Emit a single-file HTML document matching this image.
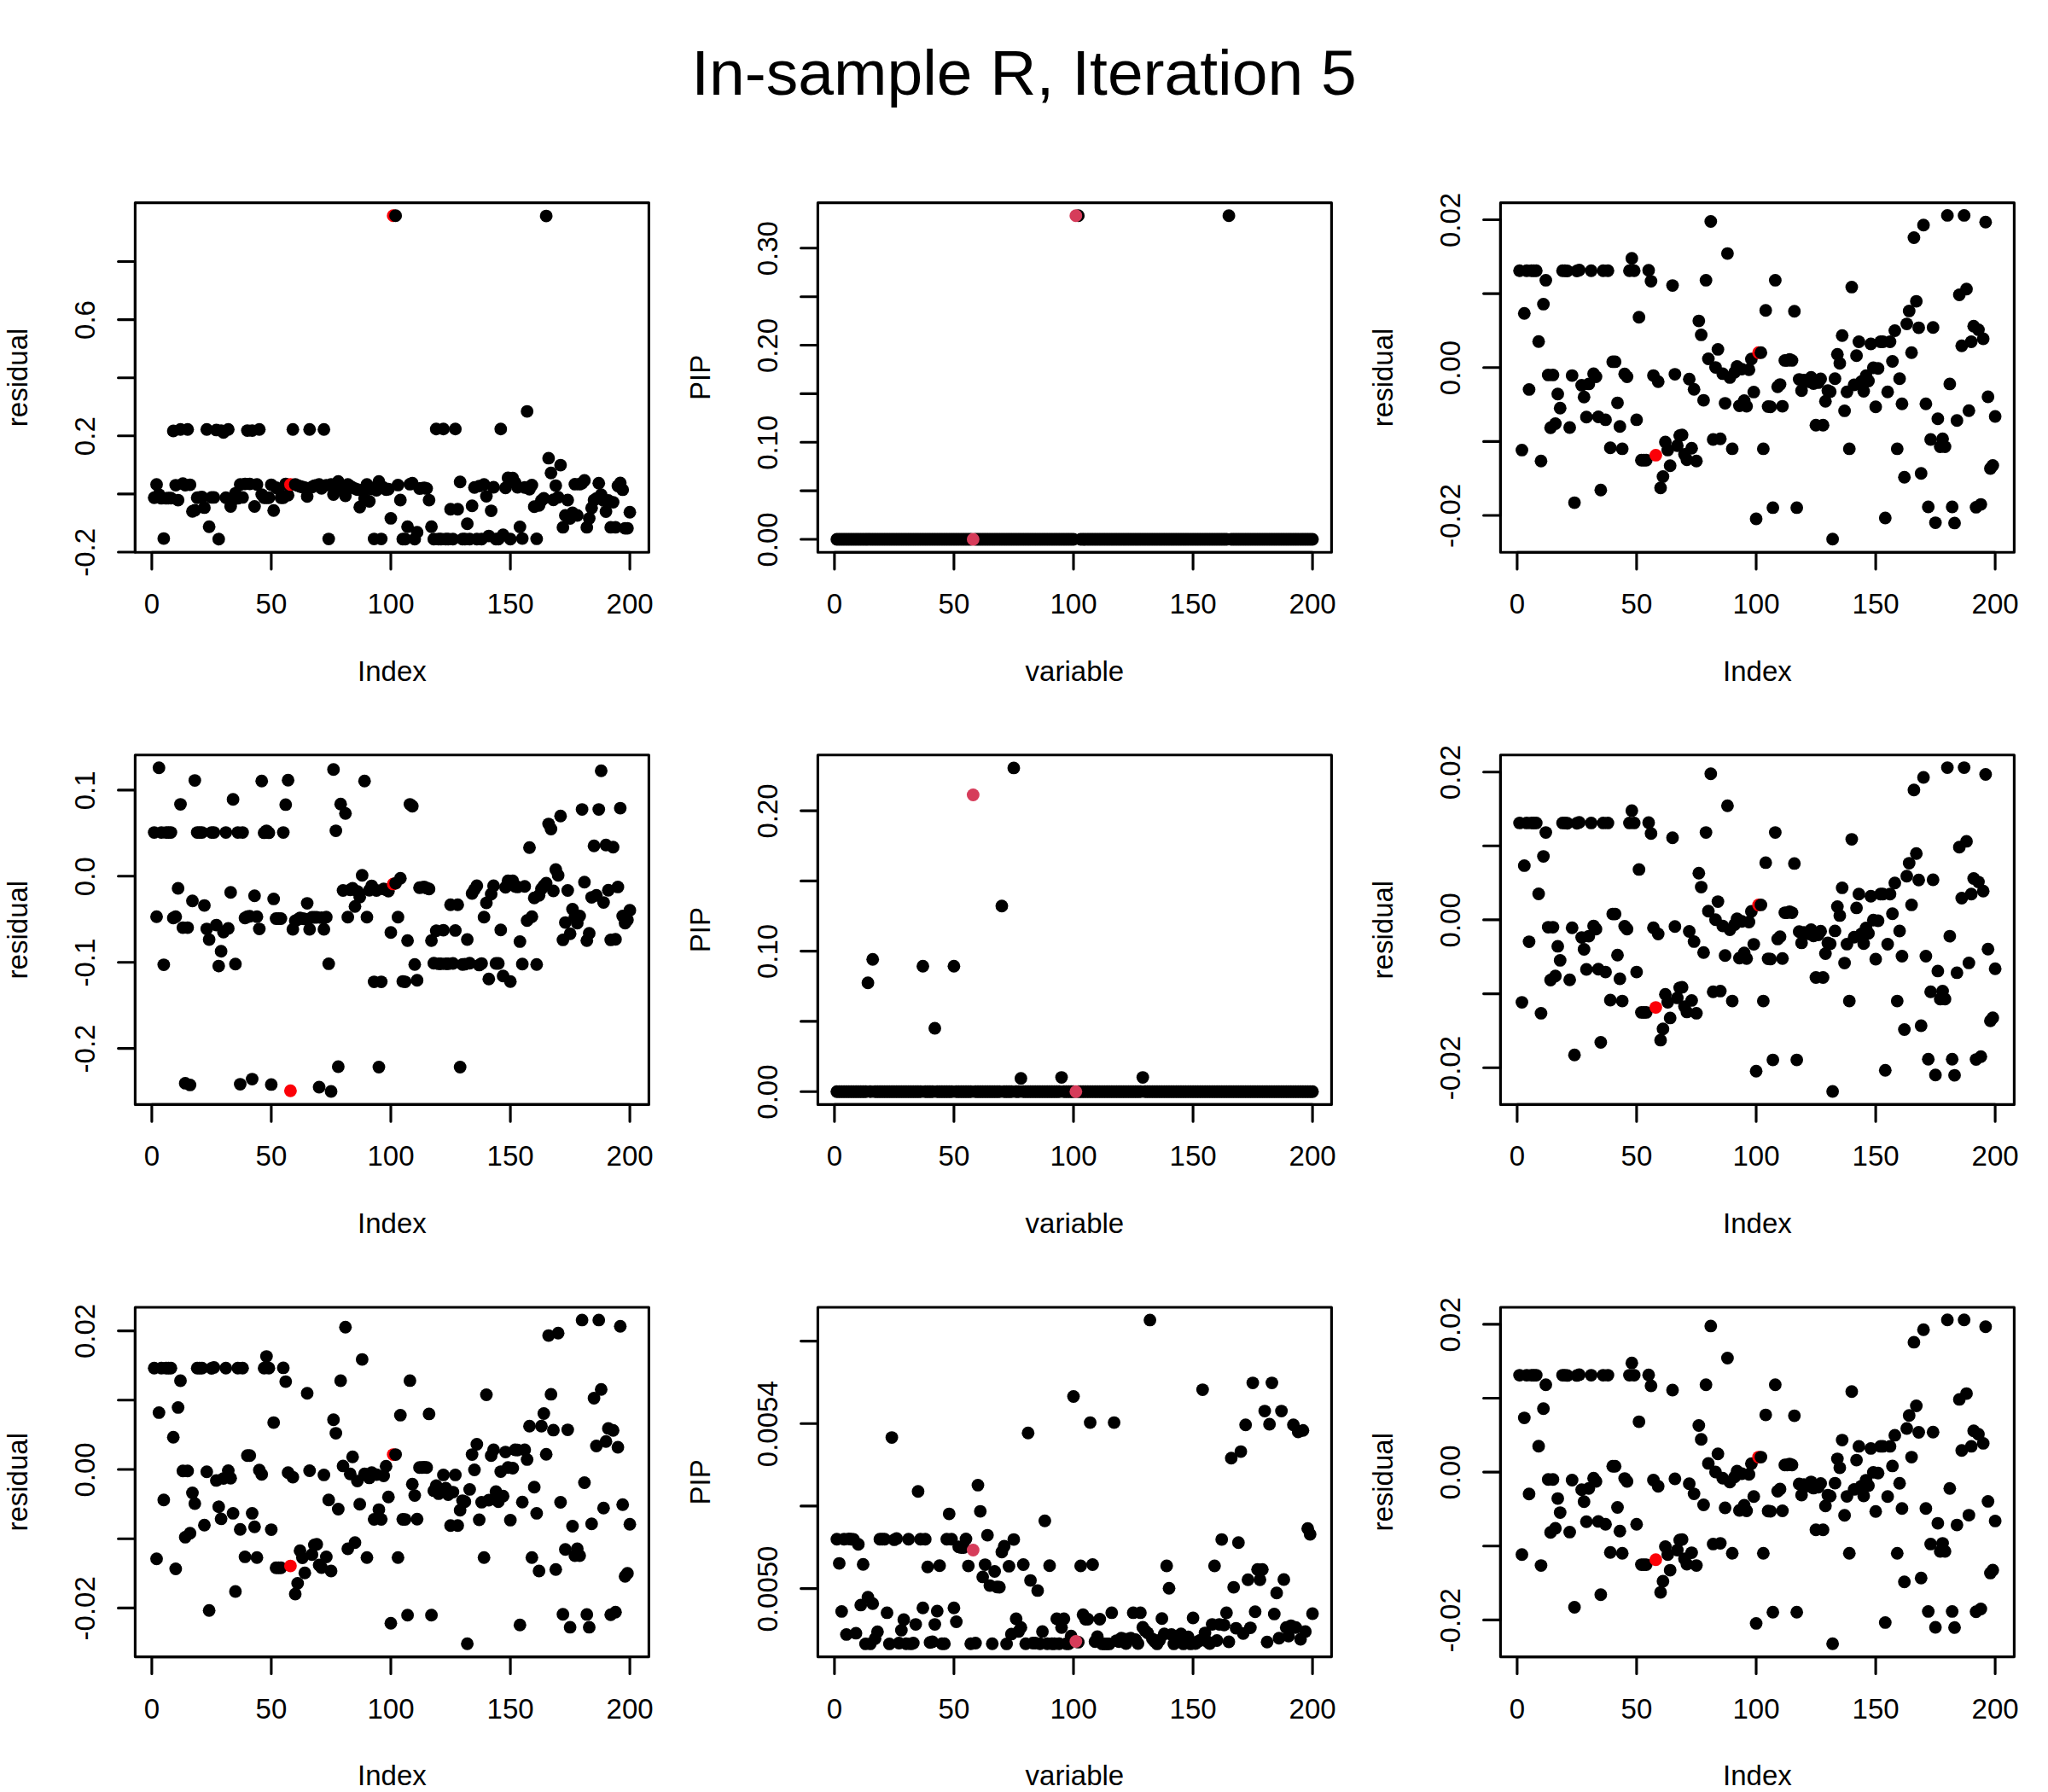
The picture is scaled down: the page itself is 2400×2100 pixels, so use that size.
<!DOCTYPE html>
<html><head><meta charset="utf-8"><title>In-sample R, Iteration 5</title>
<style>html,body{margin:0;padding:0;background:#fff}svg{display:block}text{font-family:"Liberation Sans",Arial,Helvetica,sans-serif;fill:#000}.a{font-size:33px}.t{font-size:75px}.l{stroke:#000;stroke-width:3.125;stroke-linecap:round;stroke-linejoin:round;fill:none}</style></head><body>
<svg width="2400" height="2100" viewBox="0 0 2400 2100">
<rect width="2400" height="2100" fill="#fff"/>
<text class="t" x="1200" y="110.5" text-anchor="middle">In-sample R, Iteration 5</text>
<g>
<g fill="#000"><circle cx="180.7" cy="583.2" r="7.43"/><circle cx="183.5" cy="567.8" r="7.43"/><circle cx="186.3" cy="579.6" r="7.43"/><circle cx="189.1" cy="583.9" r="7.43"/><circle cx="191.9" cy="631.1" r="7.43"/><circle cx="194.7" cy="583.9" r="7.43"/><circle cx="197.5" cy="583.8" r="7.43"/><circle cx="200.3" cy="583.7" r="7.43"/><circle cx="203.1" cy="505" r="7.43"/><circle cx="205.9" cy="568.6" r="7.43"/><circle cx="208.7" cy="586.1" r="7.43"/><circle cx="211.5" cy="503.2" r="7.43"/><circle cx="214.3" cy="566.7" r="7.43"/><circle cx="217.1" cy="568.6" r="7.43"/><circle cx="219.9" cy="503.2" r="7.43"/><circle cx="222.7" cy="568.1" r="7.43"/><circle cx="225.5" cy="599.3" r="7.43"/><circle cx="228.3" cy="597.9" r="7.43"/><circle cx="231.1" cy="583.2" r="7.43"/><circle cx="233.9" cy="582.9" r="7.43"/><circle cx="236.7" cy="582.5" r="7.43"/><circle cx="239.5" cy="594.9" r="7.43"/><circle cx="242.3" cy="503.2" r="7.43"/><circle cx="245.1" cy="617.2" r="7.43"/><circle cx="247.9" cy="582.9" r="7.43"/><circle cx="250.7" cy="582.9" r="7.43"/><circle cx="253.5" cy="503.9" r="7.43"/><circle cx="256.3" cy="631.8" r="7.43"/><circle cx="259.1" cy="504.6" r="7.43"/><circle cx="261.9" cy="506.7" r="7.43"/><circle cx="264.7" cy="583.2" r="7.43"/><circle cx="267.5" cy="503.2" r="7.43"/><circle cx="270.3" cy="593.5" r="7.43"/><circle cx="273.1" cy="585.4" r="7.43"/><circle cx="275.9" cy="578.1" r="7.43"/><circle cx="278.7" cy="583.9" r="7.43"/><circle cx="281.5" cy="567.8" r="7.43"/><circle cx="284.3" cy="582.9" r="7.43"/><circle cx="287.1" cy="567.1" r="7.43"/><circle cx="289.9" cy="504.6" r="7.43"/><circle cx="292.7" cy="567.1" r="7.43"/><circle cx="295.5" cy="504.6" r="7.43"/><circle cx="298.3" cy="593.5" r="7.43"/><circle cx="301.1" cy="567.8" r="7.43"/><circle cx="303.9" cy="503.2" r="7.43"/><circle cx="306.7" cy="579.6" r="7.43"/><circle cx="309.5" cy="583.2" r="7.43"/><circle cx="312.3" cy="583.2" r="7.43"/><circle cx="315.1" cy="583.2" r="7.43"/><circle cx="317.9" cy="568.1" r="7.43"/><circle cx="320.7" cy="598.2" r="7.43"/><circle cx="323.5" cy="571.5" r="7.43"/><circle cx="326.4" cy="573" r="7.43"/><circle cx="329.2" cy="583.2" r="7.43"/><circle cx="332" cy="583.2" r="7.43"/><circle cx="334.8" cy="567.1" r="7.43"/><circle cx="337.6" cy="580.3" r="7.43"/><circle cx="340.4" cy="567.8" r="7.43" fill="#FB0007"/><circle cx="343.2" cy="503.2" r="7.43"/><circle cx="346" cy="567.8" r="7.43"/><circle cx="348.8" cy="568.9" r="7.43"/><circle cx="351.6" cy="570" r="7.43"/><circle cx="354.4" cy="570.8" r="7.43"/><circle cx="357.2" cy="571.5" r="7.43"/><circle cx="360" cy="581.7" r="7.43"/><circle cx="362.8" cy="503.2" r="7.43"/><circle cx="365.6" cy="570.8" r="7.43"/><circle cx="368.4" cy="569.3" r="7.43"/><circle cx="371.2" cy="568.6" r="7.43"/><circle cx="374" cy="567.8" r="7.43"/><circle cx="376.8" cy="572.2" r="7.43"/><circle cx="379.6" cy="503.2" r="7.43"/><circle cx="382.4" cy="568.6" r="7.43"/><circle cx="385.2" cy="631.6" r="7.43"/><circle cx="388" cy="567.8" r="7.43"/><circle cx="390.8" cy="579.6" r="7.43"/><circle cx="393.6" cy="570.8" r="7.43"/><circle cx="396.4" cy="564.2" r="7.43"/><circle cx="399.2" cy="571.5" r="7.43"/><circle cx="402" cy="574.6" r="7.43"/><circle cx="404.8" cy="581" r="7.43"/><circle cx="407.6" cy="567.8" r="7.43"/><circle cx="410.4" cy="569.7" r="7.43"/><circle cx="413.2" cy="571.5" r="7.43"/><circle cx="416" cy="572.6" r="7.43"/><circle cx="418.8" cy="573.7" r="7.43"/><circle cx="421.6" cy="594.2" r="7.43"/><circle cx="424.4" cy="574.4" r="7.43"/><circle cx="427.2" cy="583.9" r="7.43"/><circle cx="430" cy="567.8" r="7.43"/><circle cx="432.8" cy="587.6" r="7.43"/><circle cx="435.6" cy="573" r="7.43"/><circle cx="438.4" cy="631.6" r="7.43"/><circle cx="441.2" cy="574.6" r="7.43"/><circle cx="444" cy="564.2" r="7.43"/><circle cx="446.8" cy="631.6" r="7.43"/><circle cx="449.6" cy="571.5" r="7.43"/><circle cx="452.4" cy="573.7" r="7.43"/><circle cx="455.2" cy="573.2" r="7.43"/><circle cx="458" cy="607.4" r="7.43"/><circle cx="460.8" cy="252.8" r="7.43" fill="#FB0007"/><circle cx="463.6" cy="252.8" r="7.43"/><circle cx="466.4" cy="568.4" r="7.43"/><circle cx="469.2" cy="586" r="7.43"/><circle cx="472" cy="631.8" r="7.43"/><circle cx="474.8" cy="631.8" r="7.43"/><circle cx="477.6" cy="617.2" r="7.43"/><circle cx="480.4" cy="567.4" r="7.43"/><circle cx="483.2" cy="566.3" r="7.43"/><circle cx="486" cy="631.8" r="7.43"/><circle cx="488.8" cy="623.7" r="7.43"/><circle cx="491.6" cy="572.5" r="7.43"/><circle cx="494.4" cy="572.1" r="7.43"/><circle cx="497.2" cy="571.7" r="7.43"/><circle cx="500" cy="572.5" r="7.43"/><circle cx="502.8" cy="586.1" r="7.43"/><circle cx="505.6" cy="617.2" r="7.43"/><circle cx="508.4" cy="631.8" r="7.43"/><circle cx="511.2" cy="502.7" r="7.43"/><circle cx="514" cy="631.8" r="7.43"/><circle cx="516.8" cy="631.8" r="7.43"/><circle cx="519.6" cy="502.7" r="7.43"/><circle cx="522.4" cy="631.8" r="7.43"/><circle cx="525.2" cy="631.8" r="7.43"/><circle cx="528" cy="596.7" r="7.43"/><circle cx="530.8" cy="631.8" r="7.43"/><circle cx="533.6" cy="502.7" r="7.43"/><circle cx="536.4" cy="596.7" r="7.43"/><circle cx="539.2" cy="564.7" r="7.43"/><circle cx="542" cy="631.8" r="7.43"/><circle cx="544.8" cy="631.8" r="7.43"/><circle cx="547.6" cy="613.8" r="7.43"/><circle cx="550.4" cy="631.8" r="7.43"/><circle cx="553.2" cy="592.7" r="7.43"/><circle cx="556" cy="571.3" r="7.43"/><circle cx="558.8" cy="631.8" r="7.43"/><circle cx="561.6" cy="569.6" r="7.43"/><circle cx="564.4" cy="631.8" r="7.43"/><circle cx="567.2" cy="567.8" r="7.43"/><circle cx="570" cy="581.6" r="7.43"/><circle cx="572.8" cy="628.1" r="7.43"/><circle cx="575.6" cy="598.6" r="7.43"/><circle cx="578.4" cy="571" r="7.43"/><circle cx="581.2" cy="631.8" r="7.43"/><circle cx="584" cy="631.8" r="7.43"/><circle cx="586.8" cy="502.7" r="7.43"/><circle cx="589.6" cy="626.7" r="7.43"/><circle cx="592.4" cy="571.7" r="7.43"/><circle cx="595.3" cy="560" r="7.43"/><circle cx="598.1" cy="631.8" r="7.43"/><circle cx="600.9" cy="560.3" r="7.43"/><circle cx="603.7" cy="565.7" r="7.43"/><circle cx="606.5" cy="571" r="7.43"/><circle cx="609.3" cy="617.5" r="7.43"/><circle cx="612.1" cy="631.1" r="7.43"/><circle cx="614.9" cy="571.3" r="7.43"/><circle cx="617.7" cy="482.1" r="7.43"/><circle cx="620.5" cy="573.2" r="7.43"/><circle cx="623.3" cy="568.4" r="7.43"/><circle cx="626.1" cy="593.7" r="7.43"/><circle cx="628.9" cy="631.4" r="7.43"/><circle cx="631.7" cy="592.3" r="7.43"/><circle cx="634.5" cy="586.4" r="7.43"/><circle cx="637.3" cy="583.9" r="7.43"/><circle cx="640.1" cy="253.1" r="7.43"/><circle cx="642.9" cy="536.9" r="7.43"/><circle cx="645.7" cy="554.2" r="7.43"/><circle cx="648.5" cy="585.7" r="7.43"/><circle cx="651.3" cy="569.1" r="7.43"/><circle cx="654.1" cy="582.7" r="7.43"/><circle cx="656.9" cy="545.1" r="7.43"/><circle cx="659.7" cy="617.9" r="7.43"/><circle cx="662.5" cy="604" r="7.43"/><circle cx="665.3" cy="586" r="7.43"/><circle cx="668.1" cy="607.6" r="7.43"/><circle cx="670.9" cy="601" r="7.43"/><circle cx="673.7" cy="567.4" r="7.43"/><circle cx="676.5" cy="604" r="7.43"/><circle cx="679.3" cy="567.4" r="7.43"/><circle cx="682.1" cy="566.3" r="7.43"/><circle cx="684.9" cy="563" r="7.43"/><circle cx="687.7" cy="617.9" r="7.43"/><circle cx="690.5" cy="607.6" r="7.43"/><circle cx="693.3" cy="595.2" r="7.43"/><circle cx="696.1" cy="586.1" r="7.43"/><circle cx="698.9" cy="584.2" r="7.43"/><circle cx="701.7" cy="566.3" r="7.43"/><circle cx="704.5" cy="579.8" r="7.43"/><circle cx="707.3" cy="586.4" r="7.43"/><circle cx="710.1" cy="599.6" r="7.43"/><circle cx="712.9" cy="586.4" r="7.43"/><circle cx="715.7" cy="617.9" r="7.43"/><circle cx="718.5" cy="588.6" r="7.43"/><circle cx="721.3" cy="617.9" r="7.43"/><circle cx="724.1" cy="569.6" r="7.43"/><circle cx="726.9" cy="565.9" r="7.43"/><circle cx="729.7" cy="573.9" r="7.43"/><circle cx="732.5" cy="619.1" r="7.43"/><circle cx="735.3" cy="619.1" r="7.43"/><circle cx="738.1" cy="600.3" r="7.43"/></g>
<rect class="l" x="158.4" y="237.6" width="602" height="409.6"/>
<path class="l" d="M177.9 647.2H738.1M177.9 647.2v19.8M317.9 647.2v19.8M458 647.2v19.8M598.1 647.2v19.8M738.1 647.2v19.8M158.4 647V306.5M158.4 647h-19.8M158.4 578.9h-19.8M158.4 510.8h-19.8M158.4 442.7h-19.8M158.4 374.6h-19.8M158.4 306.5h-19.8"/>
<text class="a" x="177.9" y="719.2" text-anchor="middle">0</text><text class="a" x="317.9" y="719.2" text-anchor="middle">50</text><text class="a" x="458" y="719.2" text-anchor="middle">100</text><text class="a" x="598.1" y="719.2" text-anchor="middle">150</text><text class="a" x="738.1" y="719.2" text-anchor="middle">200</text>
<text class="a" transform="translate(110.6 647.4) rotate(-90)" text-anchor="middle">-0.2</text><text class="a" transform="translate(110.6 511.2) rotate(-90)" text-anchor="middle">0.2</text><text class="a" transform="translate(110.6 375) rotate(-90)" text-anchor="middle">0.6</text>
<text class="a" x="459.4" y="797.7" text-anchor="middle">Index</text>
<text class="a" transform="translate(31.7 442.4) rotate(-90)" text-anchor="middle">residual</text>
</g>
<g>
<g fill="#000"><circle cx="980.7" cy="632" r="7.43"/><circle cx="983.5" cy="632" r="7.43"/><circle cx="986.3" cy="632" r="7.43"/><circle cx="989.1" cy="632" r="7.43"/><circle cx="991.9" cy="632" r="7.43"/><circle cx="994.7" cy="632" r="7.43"/><circle cx="997.5" cy="632" r="7.43"/><circle cx="1000.3" cy="632" r="7.43"/><circle cx="1003.1" cy="632" r="7.43"/><circle cx="1005.9" cy="632" r="7.43"/><circle cx="1008.7" cy="632" r="7.43"/><circle cx="1011.5" cy="632" r="7.43"/><circle cx="1014.3" cy="632" r="7.43"/><circle cx="1017.1" cy="632" r="7.43"/><circle cx="1019.9" cy="632" r="7.43"/><circle cx="1022.7" cy="632" r="7.43"/><circle cx="1025.5" cy="632" r="7.43"/><circle cx="1028.3" cy="632" r="7.43"/><circle cx="1031.1" cy="632" r="7.43"/><circle cx="1033.9" cy="632" r="7.43"/><circle cx="1036.7" cy="632" r="7.43"/><circle cx="1039.5" cy="632" r="7.43"/><circle cx="1042.3" cy="632" r="7.43"/><circle cx="1045.1" cy="632" r="7.43"/><circle cx="1047.9" cy="632" r="7.43"/><circle cx="1050.7" cy="632" r="7.43"/><circle cx="1053.5" cy="632" r="7.43"/><circle cx="1056.3" cy="632" r="7.43"/><circle cx="1059.1" cy="632" r="7.43"/><circle cx="1061.9" cy="632" r="7.43"/><circle cx="1064.7" cy="632" r="7.43"/><circle cx="1067.5" cy="632" r="7.43"/><circle cx="1070.3" cy="632" r="7.43"/><circle cx="1073.1" cy="632" r="7.43"/><circle cx="1075.9" cy="632" r="7.43"/><circle cx="1078.7" cy="632" r="7.43"/><circle cx="1081.5" cy="632" r="7.43"/><circle cx="1084.3" cy="632" r="7.43"/><circle cx="1087.1" cy="632" r="7.43"/><circle cx="1089.9" cy="632" r="7.43"/><circle cx="1092.7" cy="632" r="7.43"/><circle cx="1095.5" cy="632" r="7.43"/><circle cx="1098.3" cy="632" r="7.43"/><circle cx="1101.1" cy="632" r="7.43"/><circle cx="1103.9" cy="632" r="7.43"/><circle cx="1106.7" cy="632" r="7.43"/><circle cx="1109.5" cy="632" r="7.43"/><circle cx="1112.3" cy="632" r="7.43"/><circle cx="1115.1" cy="632" r="7.43"/><circle cx="1117.9" cy="632" r="7.43"/><circle cx="1120.7" cy="632" r="7.43"/><circle cx="1123.5" cy="632" r="7.43"/><circle cx="1126.4" cy="632" r="7.43"/><circle cx="1129.2" cy="632" r="7.43"/><circle cx="1132" cy="632" r="7.43"/><circle cx="1134.8" cy="632" r="7.43"/><circle cx="1137.6" cy="632" r="7.43"/><circle cx="1143.2" cy="632" r="7.43"/><circle cx="1146" cy="632" r="7.43"/><circle cx="1148.8" cy="632" r="7.43"/><circle cx="1151.6" cy="632" r="7.43"/><circle cx="1154.4" cy="632" r="7.43"/><circle cx="1157.2" cy="632" r="7.43"/><circle cx="1160" cy="632" r="7.43"/><circle cx="1162.8" cy="632" r="7.43"/><circle cx="1165.6" cy="632" r="7.43"/><circle cx="1168.4" cy="632" r="7.43"/><circle cx="1171.2" cy="632" r="7.43"/><circle cx="1174" cy="632" r="7.43"/><circle cx="1176.8" cy="632" r="7.43"/><circle cx="1179.6" cy="632" r="7.43"/><circle cx="1182.4" cy="632" r="7.43"/><circle cx="1185.2" cy="632" r="7.43"/><circle cx="1188" cy="632" r="7.43"/><circle cx="1190.8" cy="632" r="7.43"/><circle cx="1193.6" cy="632" r="7.43"/><circle cx="1196.4" cy="632" r="7.43"/><circle cx="1199.2" cy="632" r="7.43"/><circle cx="1202" cy="632" r="7.43"/><circle cx="1204.8" cy="632" r="7.43"/><circle cx="1207.6" cy="632" r="7.43"/><circle cx="1210.4" cy="632" r="7.43"/><circle cx="1213.2" cy="632" r="7.43"/><circle cx="1216" cy="632" r="7.43"/><circle cx="1218.8" cy="632" r="7.43"/><circle cx="1221.6" cy="632" r="7.43"/><circle cx="1224.4" cy="632" r="7.43"/><circle cx="1227.2" cy="632" r="7.43"/><circle cx="1230" cy="632" r="7.43"/><circle cx="1232.8" cy="632" r="7.43"/><circle cx="1235.6" cy="632" r="7.43"/><circle cx="1238.4" cy="632" r="7.43"/><circle cx="1241.2" cy="632" r="7.43"/><circle cx="1244" cy="632" r="7.43"/><circle cx="1246.8" cy="632" r="7.43"/><circle cx="1249.6" cy="632" r="7.43"/><circle cx="1252.4" cy="632" r="7.43"/><circle cx="1255.2" cy="632" r="7.43"/><circle cx="1258" cy="632" r="7.43"/><circle cx="1263.6" cy="252.8" r="7.43"/><circle cx="1266.4" cy="632" r="7.43"/><circle cx="1269.2" cy="632" r="7.43"/><circle cx="1272" cy="632" r="7.43"/><circle cx="1274.8" cy="632" r="7.43"/><circle cx="1277.6" cy="632" r="7.43"/><circle cx="1280.4" cy="632" r="7.43"/><circle cx="1283.2" cy="632" r="7.43"/><circle cx="1286" cy="632" r="7.43"/><circle cx="1288.8" cy="632" r="7.43"/><circle cx="1291.6" cy="632" r="7.43"/><circle cx="1294.4" cy="632" r="7.43"/><circle cx="1297.2" cy="632" r="7.43"/><circle cx="1300" cy="632" r="7.43"/><circle cx="1302.8" cy="632" r="7.43"/><circle cx="1305.6" cy="632" r="7.43"/><circle cx="1308.4" cy="632" r="7.43"/><circle cx="1311.2" cy="632" r="7.43"/><circle cx="1314" cy="632" r="7.43"/><circle cx="1316.8" cy="632" r="7.43"/><circle cx="1319.6" cy="632" r="7.43"/><circle cx="1322.4" cy="632" r="7.43"/><circle cx="1325.2" cy="632" r="7.43"/><circle cx="1328" cy="632" r="7.43"/><circle cx="1330.8" cy="632" r="7.43"/><circle cx="1333.6" cy="632" r="7.43"/><circle cx="1336.4" cy="632" r="7.43"/><circle cx="1339.2" cy="632" r="7.43"/><circle cx="1342" cy="632" r="7.43"/><circle cx="1344.8" cy="632" r="7.43"/><circle cx="1347.6" cy="632" r="7.43"/><circle cx="1350.4" cy="632" r="7.43"/><circle cx="1353.2" cy="632" r="7.43"/><circle cx="1356" cy="632" r="7.43"/><circle cx="1358.8" cy="632" r="7.43"/><circle cx="1361.6" cy="632" r="7.43"/><circle cx="1364.4" cy="632" r="7.43"/><circle cx="1367.2" cy="632" r="7.43"/><circle cx="1370" cy="632" r="7.43"/><circle cx="1372.8" cy="632" r="7.43"/><circle cx="1375.6" cy="632" r="7.43"/><circle cx="1378.4" cy="632" r="7.43"/><circle cx="1381.2" cy="632" r="7.43"/><circle cx="1384" cy="632" r="7.43"/><circle cx="1386.8" cy="632" r="7.43"/><circle cx="1389.6" cy="632" r="7.43"/><circle cx="1392.4" cy="632" r="7.43"/><circle cx="1395.3" cy="632" r="7.43"/><circle cx="1398.1" cy="632" r="7.43"/><circle cx="1400.9" cy="632" r="7.43"/><circle cx="1403.7" cy="632" r="7.43"/><circle cx="1406.5" cy="632" r="7.43"/><circle cx="1409.3" cy="632" r="7.43"/><circle cx="1412.1" cy="632" r="7.43"/><circle cx="1414.9" cy="632" r="7.43"/><circle cx="1417.7" cy="632" r="7.43"/><circle cx="1420.5" cy="632" r="7.43"/><circle cx="1423.3" cy="632" r="7.43"/><circle cx="1426.1" cy="632" r="7.43"/><circle cx="1428.9" cy="632" r="7.43"/><circle cx="1431.7" cy="632" r="7.43"/><circle cx="1434.5" cy="632" r="7.43"/><circle cx="1437.3" cy="632" r="7.43"/><circle cx="1440.1" cy="252.8" r="7.43"/><circle cx="1442.9" cy="632" r="7.43"/><circle cx="1445.7" cy="632" r="7.43"/><circle cx="1448.5" cy="632" r="7.43"/><circle cx="1451.3" cy="632" r="7.43"/><circle cx="1454.1" cy="632" r="7.43"/><circle cx="1456.9" cy="632" r="7.43"/><circle cx="1459.7" cy="632" r="7.43"/><circle cx="1462.5" cy="632" r="7.43"/><circle cx="1465.3" cy="632" r="7.43"/><circle cx="1468.1" cy="632" r="7.43"/><circle cx="1470.9" cy="632" r="7.43"/><circle cx="1473.7" cy="632" r="7.43"/><circle cx="1476.5" cy="632" r="7.43"/><circle cx="1479.3" cy="632" r="7.43"/><circle cx="1482.1" cy="632" r="7.43"/><circle cx="1484.9" cy="632" r="7.43"/><circle cx="1487.7" cy="632" r="7.43"/><circle cx="1490.5" cy="632" r="7.43"/><circle cx="1493.3" cy="632" r="7.43"/><circle cx="1496.1" cy="632" r="7.43"/><circle cx="1498.9" cy="632" r="7.43"/><circle cx="1501.7" cy="632" r="7.43"/><circle cx="1504.5" cy="632" r="7.43"/><circle cx="1507.3" cy="632" r="7.43"/><circle cx="1510.1" cy="632" r="7.43"/><circle cx="1512.9" cy="632" r="7.43"/><circle cx="1515.7" cy="632" r="7.43"/><circle cx="1518.5" cy="632" r="7.43"/><circle cx="1521.3" cy="632" r="7.43"/><circle cx="1524.1" cy="632" r="7.43"/><circle cx="1526.9" cy="632" r="7.43"/><circle cx="1529.7" cy="632" r="7.43"/><circle cx="1532.5" cy="632" r="7.43"/><circle cx="1535.3" cy="632" r="7.43"/><circle cx="1538.1" cy="632" r="7.43"/><circle cx="1140.4" cy="632" r="7.43" fill="#D63C5A"/><circle cx="1260.8" cy="252.8" r="7.43" fill="#D63C5A"/></g>
<rect class="l" x="958.4" y="237.6" width="602" height="409.6"/>
<path class="l" d="M977.9 647.2H1538.1M977.9 647.2v19.8M1117.9 647.2v19.8M1258 647.2v19.8M1398.1 647.2v19.8M1538.1 647.2v19.8M958.4 632V290.8M958.4 632h-19.8M958.4 575.1h-19.8M958.4 518.3h-19.8M958.4 461.4h-19.8M958.4 404.5h-19.8M958.4 347.7h-19.8M958.4 290.8h-19.8"/>
<text class="a" x="977.9" y="719.2" text-anchor="middle">0</text><text class="a" x="1117.9" y="719.2" text-anchor="middle">50</text><text class="a" x="1258" y="719.2" text-anchor="middle">100</text><text class="a" x="1398.1" y="719.2" text-anchor="middle">150</text><text class="a" x="1538.1" y="719.2" text-anchor="middle">200</text>
<text class="a" transform="translate(910.6 632.4) rotate(-90)" text-anchor="middle">0.00</text><text class="a" transform="translate(910.6 518.7) rotate(-90)" text-anchor="middle">0.10</text><text class="a" transform="translate(910.6 404.9) rotate(-90)" text-anchor="middle">0.20</text><text class="a" transform="translate(910.6 291.2) rotate(-90)" text-anchor="middle">0.30</text>
<text class="a" x="1259.4" y="797.7" text-anchor="middle">variable</text>
<text class="a" transform="translate(831.7 442.4) rotate(-90)" text-anchor="middle">PIP</text>
</g>
<g>
<g fill="#000"><circle cx="1780.7" cy="317.2" r="7.43"/><circle cx="1783.5" cy="527.4" r="7.43"/><circle cx="1786.3" cy="367.2" r="7.43"/><circle cx="1789.1" cy="317.2" r="7.43"/><circle cx="1791.9" cy="456.4" r="7.43"/><circle cx="1794.7" cy="317.2" r="7.43"/><circle cx="1797.5" cy="317.2" r="7.43"/><circle cx="1800.3" cy="317.2" r="7.43"/><circle cx="1803.1" cy="400.3" r="7.43"/><circle cx="1805.9" cy="540.2" r="7.43"/><circle cx="1808.7" cy="356.4" r="7.43"/><circle cx="1811.5" cy="328.4" r="7.43"/><circle cx="1814.3" cy="439.4" r="7.43"/><circle cx="1817.1" cy="501.3" r="7.43"/><circle cx="1819.9" cy="439.4" r="7.43"/><circle cx="1822.7" cy="496.5" r="7.43"/><circle cx="1825.5" cy="461.7" r="7.43"/><circle cx="1828.3" cy="478.2" r="7.43"/><circle cx="1831.1" cy="317.2" r="7.43"/><circle cx="1833.9" cy="317.2" r="7.43"/><circle cx="1836.7" cy="317.5" r="7.43"/><circle cx="1839.5" cy="501" r="7.43"/><circle cx="1842.3" cy="440.1" r="7.43"/><circle cx="1845.1" cy="589.1" r="7.43"/><circle cx="1847.9" cy="317.5" r="7.43"/><circle cx="1850.7" cy="316.5" r="7.43"/><circle cx="1853.5" cy="451.4" r="7.43"/><circle cx="1856.3" cy="465.3" r="7.43"/><circle cx="1859.1" cy="488.8" r="7.43"/><circle cx="1861.9" cy="449.9" r="7.43"/><circle cx="1864.7" cy="317.2" r="7.43"/><circle cx="1867.5" cy="437.9" r="7.43"/><circle cx="1870.3" cy="441.6" r="7.43"/><circle cx="1873.1" cy="488.5" r="7.43"/><circle cx="1875.9" cy="574.3" r="7.43"/><circle cx="1878.7" cy="317.2" r="7.43"/><circle cx="1881.5" cy="491.9" r="7.43"/><circle cx="1884.3" cy="317.2" r="7.43"/><circle cx="1887.1" cy="524.8" r="7.43"/><circle cx="1889.9" cy="423.9" r="7.43"/><circle cx="1892.7" cy="423.9" r="7.43"/><circle cx="1895.5" cy="472.1" r="7.43"/><circle cx="1898.3" cy="499.8" r="7.43"/><circle cx="1901.1" cy="525.9" r="7.43"/><circle cx="1903.9" cy="438.2" r="7.43"/><circle cx="1906.7" cy="441.6" r="7.43"/><circle cx="1909.5" cy="317.2" r="7.43"/><circle cx="1912.3" cy="302.8" r="7.43"/><circle cx="1915.1" cy="317.2" r="7.43"/><circle cx="1917.9" cy="491.9" r="7.43"/><circle cx="1920.7" cy="371.7" r="7.43"/><circle cx="1923.5" cy="539.2" r="7.43"/><circle cx="1926.4" cy="539.2" r="7.43"/><circle cx="1929.2" cy="539.2" r="7.43"/><circle cx="1932" cy="316.8" r="7.43"/><circle cx="1934.8" cy="329.6" r="7.43"/><circle cx="1937.6" cy="440.1" r="7.43"/><circle cx="1940.4" cy="533.4" r="7.43" fill="#FB0007"/><circle cx="1943.2" cy="447.3" r="7.43"/><circle cx="1946" cy="571.7" r="7.43"/><circle cx="1948.8" cy="558.5" r="7.43"/><circle cx="1951.6" cy="518" r="7.43"/><circle cx="1954.4" cy="527.4" r="7.43"/><circle cx="1957.2" cy="545.7" r="7.43"/><circle cx="1960" cy="334.6" r="7.43"/><circle cx="1962.8" cy="438.6" r="7.43"/><circle cx="1965.6" cy="522.2" r="7.43"/><circle cx="1968.4" cy="510.4" r="7.43"/><circle cx="1971.2" cy="509.7" r="7.43"/><circle cx="1974" cy="532.4" r="7.43"/><circle cx="1976.8" cy="538.7" r="7.43"/><circle cx="1979.6" cy="444.3" r="7.43"/><circle cx="1982.4" cy="525.2" r="7.43"/><circle cx="1985.2" cy="456.2" r="7.43"/><circle cx="1988" cy="540.2" r="7.43"/><circle cx="1990.8" cy="376.1" r="7.43"/><circle cx="1993.6" cy="392.4" r="7.43"/><circle cx="1996.4" cy="469.1" r="7.43"/><circle cx="1999.2" cy="328.4" r="7.43"/><circle cx="2002" cy="420.5" r="7.43"/><circle cx="2004.8" cy="259.5" r="7.43"/><circle cx="2007.6" cy="515" r="7.43"/><circle cx="2010.4" cy="430.6" r="7.43"/><circle cx="2013.2" cy="409.4" r="7.43"/><circle cx="2016" cy="514.2" r="7.43"/><circle cx="2018.8" cy="437.9" r="7.43"/><circle cx="2021.6" cy="472.6" r="7.43"/><circle cx="2024.4" cy="297.1" r="7.43"/><circle cx="2027.2" cy="442.4" r="7.43"/><circle cx="2030" cy="525.9" r="7.43"/><circle cx="2032.8" cy="436.3" r="7.43"/><circle cx="2035.6" cy="429.5" r="7.43"/><circle cx="2038.4" cy="475.6" r="7.43"/><circle cx="2041.2" cy="432.6" r="7.43"/><circle cx="2044" cy="469.5" r="7.43"/><circle cx="2046.8" cy="476.1" r="7.43"/><circle cx="2049.6" cy="433.3" r="7.43"/><circle cx="2052.4" cy="420.8" r="7.43"/><circle cx="2055.2" cy="459.4" r="7.43"/><circle cx="2058" cy="608" r="7.43"/><circle cx="2060.8" cy="413.2" r="7.43" fill="#FB0007"/><circle cx="2063.6" cy="413.2" r="7.43"/><circle cx="2066.4" cy="525.9" r="7.43"/><circle cx="2069.2" cy="363.7" r="7.43"/><circle cx="2072" cy="476.4" r="7.43"/><circle cx="2074.8" cy="476.7" r="7.43"/><circle cx="2077.6" cy="594.9" r="7.43"/><circle cx="2080.4" cy="328.4" r="7.43"/><circle cx="2083.2" cy="453.2" r="7.43"/><circle cx="2086" cy="450.6" r="7.43"/><circle cx="2088.8" cy="476.1" r="7.43"/><circle cx="2091.6" cy="422.4" r="7.43"/><circle cx="2094.4" cy="422.4" r="7.43"/><circle cx="2097.2" cy="421.2" r="7.43"/><circle cx="2100" cy="422.4" r="7.43"/><circle cx="2102.8" cy="364.7" r="7.43"/><circle cx="2105.6" cy="594.9" r="7.43"/><circle cx="2108.4" cy="444.6" r="7.43"/><circle cx="2111.2" cy="457.7" r="7.43"/><circle cx="2114" cy="445.4" r="7.43"/><circle cx="2116.8" cy="446" r="7.43"/><circle cx="2119.6" cy="447.2" r="7.43"/><circle cx="2122.4" cy="442.2" r="7.43"/><circle cx="2125.2" cy="449.5" r="7.43"/><circle cx="2128" cy="498.3" r="7.43"/><circle cx="2130.8" cy="448.4" r="7.43"/><circle cx="2133.6" cy="444" r="7.43"/><circle cx="2136.4" cy="498.3" r="7.43"/><circle cx="2139.2" cy="470.3" r="7.43"/><circle cx="2142" cy="457.7" r="7.43"/><circle cx="2144.8" cy="458.9" r="7.43"/><circle cx="2147.6" cy="631.8" r="7.43"/><circle cx="2150.4" cy="443.7" r="7.43"/><circle cx="2153.2" cy="415.2" r="7.43"/><circle cx="2156" cy="425.7" r="7.43"/><circle cx="2158.8" cy="393.2" r="7.43"/><circle cx="2161.6" cy="481.4" r="7.43"/><circle cx="2164.4" cy="459.2" r="7.43"/><circle cx="2167.2" cy="525.9" r="7.43"/><circle cx="2170" cy="336.4" r="7.43"/><circle cx="2172.8" cy="451" r="7.43"/><circle cx="2175.6" cy="416.7" r="7.43"/><circle cx="2178.4" cy="400.5" r="7.43"/><circle cx="2181.2" cy="447.2" r="7.43"/><circle cx="2184" cy="458.6" r="7.43"/><circle cx="2186.8" cy="440.2" r="7.43"/><circle cx="2189.6" cy="446.6" r="7.43"/><circle cx="2192.4" cy="403" r="7.43"/><circle cx="2195.3" cy="431" r="7.43"/><circle cx="2198.1" cy="476.8" r="7.43"/><circle cx="2200.9" cy="431.8" r="7.43"/><circle cx="2203.7" cy="400.5" r="7.43"/><circle cx="2206.5" cy="400.5" r="7.43"/><circle cx="2209.3" cy="607" r="7.43"/><circle cx="2212.1" cy="459.3" r="7.43"/><circle cx="2214.9" cy="400.5" r="7.43"/><circle cx="2217.7" cy="423.5" r="7.43"/><circle cx="2220.5" cy="387.5" r="7.43"/><circle cx="2223.3" cy="525.9" r="7.43"/><circle cx="2226.1" cy="443.8" r="7.43"/><circle cx="2228.9" cy="473.3" r="7.43"/><circle cx="2231.7" cy="559.3" r="7.43"/><circle cx="2234.5" cy="379.6" r="7.43"/><circle cx="2237.3" cy="364.4" r="7.43"/><circle cx="2240.1" cy="413.2" r="7.43"/><circle cx="2242.9" cy="278.5" r="7.43"/><circle cx="2245.7" cy="353.1" r="7.43"/><circle cx="2248.5" cy="384.1" r="7.43"/><circle cx="2251.3" cy="554.8" r="7.43"/><circle cx="2254.1" cy="263.8" r="7.43"/><circle cx="2256.9" cy="473.3" r="7.43"/><circle cx="2259.7" cy="594" r="7.43"/><circle cx="2262.5" cy="515" r="7.43"/><circle cx="2265.3" cy="383.8" r="7.43"/><circle cx="2268.1" cy="612.6" r="7.43"/><circle cx="2270.9" cy="490.7" r="7.43"/><circle cx="2273.7" cy="523.6" r="7.43"/><circle cx="2276.5" cy="514.2" r="7.43"/><circle cx="2279.3" cy="523.6" r="7.43"/><circle cx="2282.1" cy="252.4" r="7.43"/><circle cx="2284.9" cy="449.9" r="7.43"/><circle cx="2287.7" cy="594" r="7.43"/><circle cx="2290.5" cy="612.9" r="7.43"/><circle cx="2293.3" cy="492.7" r="7.43"/><circle cx="2296.1" cy="345.5" r="7.43"/><circle cx="2298.9" cy="405.3" r="7.43"/><circle cx="2301.7" cy="252.4" r="7.43"/><circle cx="2304.5" cy="338.7" r="7.43"/><circle cx="2307.3" cy="481.2" r="7.43"/><circle cx="2310.1" cy="400.5" r="7.43"/><circle cx="2312.9" cy="382.3" r="7.43"/><circle cx="2315.7" cy="594.4" r="7.43"/><circle cx="2318.5" cy="386.4" r="7.43"/><circle cx="2321.3" cy="591.1" r="7.43"/><circle cx="2324.1" cy="397" r="7.43"/><circle cx="2326.9" cy="260.3" r="7.43"/><circle cx="2329.7" cy="465" r="7.43"/><circle cx="2332.5" cy="549" r="7.43"/><circle cx="2335.3" cy="545.5" r="7.43"/><circle cx="2338.1" cy="488" r="7.43"/></g>
<rect class="l" x="1758.4" y="237.6" width="602" height="409.6"/>
<path class="l" d="M1777.9 647.2H2338.1M1777.9 647.2v19.8M1917.9 647.2v19.8M2058 647.2v19.8M2198.1 647.2v19.8M2338.1 647.2v19.8M1758.4 604V257.5M1758.4 604h-19.8M1758.4 517.4h-19.8M1758.4 430.7h-19.8M1758.4 344.1h-19.8M1758.4 257.5h-19.8"/>
<text class="a" x="1777.9" y="719.2" text-anchor="middle">0</text><text class="a" x="1917.9" y="719.2" text-anchor="middle">50</text><text class="a" x="2058" y="719.2" text-anchor="middle">100</text><text class="a" x="2198.1" y="719.2" text-anchor="middle">150</text><text class="a" x="2338.1" y="719.2" text-anchor="middle">200</text>
<text class="a" transform="translate(1710.6 604.4) rotate(-90)" text-anchor="middle">-0.02</text><text class="a" transform="translate(1710.6 431.1) rotate(-90)" text-anchor="middle">0.00</text><text class="a" transform="translate(1710.6 257.9) rotate(-90)" text-anchor="middle">0.02</text>
<text class="a" x="2059.4" y="797.7" text-anchor="middle">Index</text>
<text class="a" transform="translate(1631.7 442.4) rotate(-90)" text-anchor="middle">residual</text>
</g>
<g>
<g fill="#000"><circle cx="180.7" cy="975.6" r="7.43"/><circle cx="183.5" cy="1074.3" r="7.43"/><circle cx="186.3" cy="899.7" r="7.43"/><circle cx="189.1" cy="975.6" r="7.43"/><circle cx="191.9" cy="1130.6" r="7.43"/><circle cx="194.7" cy="975.6" r="7.43"/><circle cx="197.5" cy="975.6" r="7.43"/><circle cx="200.3" cy="975.6" r="7.43"/><circle cx="203.1" cy="1075.8" r="7.43"/><circle cx="205.9" cy="1074.3" r="7.43"/><circle cx="208.7" cy="1041" r="7.43"/><circle cx="211.5" cy="942.6" r="7.43"/><circle cx="214.3" cy="1087.1" r="7.43"/><circle cx="217.1" cy="1269.4" r="7.43"/><circle cx="219.9" cy="1087.1" r="7.43"/><circle cx="222.7" cy="1271.4" r="7.43"/><circle cx="225.5" cy="1055.8" r="7.43"/><circle cx="228.3" cy="914.6" r="7.43"/><circle cx="231.1" cy="975.6" r="7.43"/><circle cx="233.9" cy="975.6" r="7.43"/><circle cx="236.7" cy="975.6" r="7.43"/><circle cx="239.5" cy="1061.1" r="7.43"/><circle cx="242.3" cy="1088.6" r="7.43"/><circle cx="245.1" cy="1101.1" r="7.43"/><circle cx="247.9" cy="975.6" r="7.43"/><circle cx="250.7" cy="975.6" r="7.43"/><circle cx="253.5" cy="1084.1" r="7.43"/><circle cx="256.3" cy="1132.1" r="7.43"/><circle cx="259.1" cy="1114.7" r="7.43"/><circle cx="261.9" cy="1092.3" r="7.43"/><circle cx="264.7" cy="975.6" r="7.43"/><circle cx="267.5" cy="1087.9" r="7.43"/><circle cx="270.3" cy="1045.8" r="7.43"/><circle cx="273.1" cy="936.8" r="7.43"/><circle cx="275.9" cy="1129.7" r="7.43"/><circle cx="278.7" cy="975.6" r="7.43"/><circle cx="281.5" cy="1270.6" r="7.43"/><circle cx="284.3" cy="975.6" r="7.43"/><circle cx="287.1" cy="1075.8" r="7.43"/><circle cx="289.9" cy="1074.3" r="7.43"/><circle cx="292.7" cy="1073.8" r="7.43"/><circle cx="295.5" cy="1264.6" r="7.43"/><circle cx="298.3" cy="1049.7" r="7.43"/><circle cx="301.1" cy="1074.3" r="7.43"/><circle cx="303.9" cy="1088.6" r="7.43"/><circle cx="306.7" cy="915.3" r="7.43"/><circle cx="309.5" cy="975.9" r="7.43"/><circle cx="312.3" cy="973.6" r="7.43"/><circle cx="315.1" cy="975.9" r="7.43"/><circle cx="317.9" cy="1270.9" r="7.43"/><circle cx="320.7" cy="1053.4" r="7.43"/><circle cx="323.5" cy="1076.5" r="7.43"/><circle cx="326.4" cy="1076.5" r="7.43"/><circle cx="329.2" cy="1076.5" r="7.43"/><circle cx="332" cy="975.6" r="7.43"/><circle cx="334.8" cy="942.9" r="7.43"/><circle cx="337.6" cy="914.3" r="7.43"/><circle cx="340.4" cy="1278.2" r="7.43" fill="#FB0007"/><circle cx="343.2" cy="1089" r="7.43"/><circle cx="346" cy="1079.1" r="7.43"/><circle cx="348.8" cy="1077.6" r="7.43"/><circle cx="351.6" cy="1075.8" r="7.43"/><circle cx="354.4" cy="1076.5" r="7.43"/><circle cx="357.2" cy="1076.9" r="7.43"/><circle cx="360" cy="1058.6" r="7.43"/><circle cx="362.8" cy="1089" r="7.43"/><circle cx="365.6" cy="1075" r="7.43"/><circle cx="368.4" cy="1075" r="7.43"/><circle cx="371.2" cy="1075" r="7.43"/><circle cx="374" cy="1274" r="7.43"/><circle cx="376.8" cy="1075.4" r="7.43"/><circle cx="379.6" cy="1089" r="7.43"/><circle cx="382.4" cy="1074.8" r="7.43"/><circle cx="385.2" cy="1129.4" r="7.43"/><circle cx="388" cy="1279" r="7.43"/><circle cx="390.8" cy="901.7" r="7.43"/><circle cx="393.6" cy="973.6" r="7.43"/><circle cx="396.4" cy="1250" r="7.43"/><circle cx="399.2" cy="942.3" r="7.43"/><circle cx="402" cy="1043.5" r="7.43"/><circle cx="404.8" cy="953.2" r="7.43"/><circle cx="407.6" cy="1074.8" r="7.43"/><circle cx="410.4" cy="1042.8" r="7.43"/><circle cx="413.2" cy="1041" r="7.43"/><circle cx="416" cy="1062.2" r="7.43"/><circle cx="418.8" cy="1044.6" r="7.43"/><circle cx="421.6" cy="1051.2" r="7.43"/><circle cx="424.4" cy="1025.8" r="7.43"/><circle cx="427.2" cy="915.3" r="7.43"/><circle cx="430" cy="1074.8" r="7.43"/><circle cx="432.8" cy="1043.2" r="7.43"/><circle cx="435.6" cy="1038.1" r="7.43"/><circle cx="438.4" cy="1150.6" r="7.43"/><circle cx="441.2" cy="1043.5" r="7.43"/><circle cx="444" cy="1250.5" r="7.43"/><circle cx="446.8" cy="1150.6" r="7.43"/><circle cx="449.6" cy="1041.7" r="7.43"/><circle cx="452.4" cy="1042.5" r="7.43"/><circle cx="455.2" cy="1044.3" r="7.43"/><circle cx="458" cy="1092.8" r="7.43"/><circle cx="460.8" cy="1035.9" r="7.43" fill="#FB0007"/><circle cx="463.6" cy="1035.1" r="7.43"/><circle cx="466.4" cy="1074.7" r="7.43"/><circle cx="469.2" cy="1029.3" r="7.43"/><circle cx="472" cy="1150.1" r="7.43"/><circle cx="474.8" cy="1150.6" r="7.43"/><circle cx="477.6" cy="1102.2" r="7.43"/><circle cx="480.4" cy="942.6" r="7.43"/><circle cx="483.2" cy="944.8" r="7.43"/><circle cx="486" cy="1130.2" r="7.43"/><circle cx="488.8" cy="1148.8" r="7.43"/><circle cx="491.6" cy="1040.2" r="7.43"/><circle cx="494.4" cy="1039.9" r="7.43"/><circle cx="497.2" cy="1039.4" r="7.43"/><circle cx="500" cy="1040.7" r="7.43"/><circle cx="502.8" cy="1041.7" r="7.43"/><circle cx="505.6" cy="1102.2" r="7.43"/><circle cx="508.4" cy="1128.7" r="7.43"/><circle cx="511.2" cy="1090.8" r="7.43"/><circle cx="514" cy="1129.4" r="7.43"/><circle cx="516.8" cy="1129.4" r="7.43"/><circle cx="519.6" cy="1090.1" r="7.43"/><circle cx="522.4" cy="1129.4" r="7.43"/><circle cx="525.2" cy="1129.4" r="7.43"/><circle cx="528" cy="1060.2" r="7.43"/><circle cx="530.8" cy="1129" r="7.43"/><circle cx="533.6" cy="1090.4" r="7.43"/><circle cx="536.4" cy="1060.2" r="7.43"/><circle cx="539.2" cy="1250.5" r="7.43"/><circle cx="542" cy="1130.2" r="7.43"/><circle cx="544.8" cy="1129.9" r="7.43"/><circle cx="547.6" cy="1101" r="7.43"/><circle cx="550.4" cy="1128.7" r="7.43"/><circle cx="553.2" cy="1047" r="7.43"/><circle cx="556" cy="1042.5" r="7.43"/><circle cx="558.8" cy="1037.9" r="7.43"/><circle cx="561.6" cy="1130.9" r="7.43"/><circle cx="564.4" cy="1129.1" r="7.43"/><circle cx="567.2" cy="1074.7" r="7.43"/><circle cx="570" cy="1058.1" r="7.43"/><circle cx="572.8" cy="1147.3" r="7.43"/><circle cx="575.6" cy="1047.8" r="7.43"/><circle cx="578.4" cy="1037.9" r="7.43"/><circle cx="581.2" cy="1129" r="7.43"/><circle cx="584" cy="1129" r="7.43"/><circle cx="586.8" cy="1089.8" r="7.43"/><circle cx="589.6" cy="1143.8" r="7.43"/><circle cx="592.4" cy="1039.8" r="7.43"/><circle cx="595.3" cy="1032.2" r="7.43"/><circle cx="598.1" cy="1150.3" r="7.43"/><circle cx="600.9" cy="1032.2" r="7.43"/><circle cx="603.7" cy="1038.7" r="7.43"/><circle cx="606.5" cy="1039.4" r="7.43"/><circle cx="609.3" cy="1103.4" r="7.43"/><circle cx="612.1" cy="1129.7" r="7.43"/><circle cx="614.9" cy="1038.7" r="7.43"/><circle cx="617.7" cy="1078.8" r="7.43"/><circle cx="620.5" cy="993.3" r="7.43"/><circle cx="623.3" cy="1074.3" r="7.43"/><circle cx="626.1" cy="1052.3" r="7.43"/><circle cx="628.9" cy="1130.2" r="7.43"/><circle cx="631.7" cy="1049.3" r="7.43"/><circle cx="634.5" cy="1041.7" r="7.43"/><circle cx="637.3" cy="1037.9" r="7.43"/><circle cx="640.1" cy="1034.9" r="7.43"/><circle cx="642.9" cy="965.6" r="7.43"/><circle cx="645.7" cy="971.6" r="7.43"/><circle cx="648.5" cy="1044" r="7.43"/><circle cx="651.3" cy="1019" r="7.43"/><circle cx="654.1" cy="1025.8" r="7.43"/><circle cx="656.9" cy="956.2" r="7.43"/><circle cx="659.7" cy="1101.4" r="7.43"/><circle cx="662.5" cy="1081.1" r="7.43"/><circle cx="665.3" cy="1043.5" r="7.43"/><circle cx="668.1" cy="1094.3" r="7.43"/><circle cx="670.9" cy="1065.5" r="7.43"/><circle cx="673.7" cy="1074.3" r="7.43"/><circle cx="676.5" cy="1081.8" r="7.43"/><circle cx="679.3" cy="1073.5" r="7.43"/><circle cx="682.1" cy="948.6" r="7.43"/><circle cx="684.9" cy="1033.7" r="7.43"/><circle cx="687.7" cy="1102.2" r="7.43"/><circle cx="690.5" cy="1093.8" r="7.43"/><circle cx="693.3" cy="1051.6" r="7.43"/><circle cx="696.1" cy="991.3" r="7.43"/><circle cx="698.9" cy="1049.3" r="7.43"/><circle cx="701.7" cy="948.6" r="7.43"/><circle cx="704.5" cy="903.2" r="7.43"/><circle cx="707.3" cy="1057.6" r="7.43"/><circle cx="710.1" cy="990.3" r="7.43"/><circle cx="712.9" cy="1043.2" r="7.43"/><circle cx="715.7" cy="1101.4" r="7.43"/><circle cx="718.5" cy="992.8" r="7.43"/><circle cx="721.3" cy="1100.7" r="7.43"/><circle cx="724.1" cy="1039.4" r="7.43"/><circle cx="726.9" cy="947.1" r="7.43"/><circle cx="729.7" cy="1073.5" r="7.43"/><circle cx="732.5" cy="1081.8" r="7.43"/><circle cx="735.3" cy="1078" r="7.43"/><circle cx="738.1" cy="1066.7" r="7.43"/></g>
<rect class="l" x="158.4" y="884.8" width="602" height="409.6"/>
<path class="l" d="M177.9 1294.4H738.1M177.9 1294.4v19.8M317.9 1294.4v19.8M458 1294.4v19.8M598.1 1294.4v19.8M738.1 1294.4v19.8M158.4 1228.6V925.9M158.4 1228.6h-19.8M158.4 1127.7h-19.8M158.4 1026.8h-19.8M158.4 925.9h-19.8"/>
<text class="a" x="177.9" y="1366.4" text-anchor="middle">0</text><text class="a" x="317.9" y="1366.4" text-anchor="middle">50</text><text class="a" x="458" y="1366.4" text-anchor="middle">100</text><text class="a" x="598.1" y="1366.4" text-anchor="middle">150</text><text class="a" x="738.1" y="1366.4" text-anchor="middle">200</text>
<text class="a" transform="translate(110.6 1229) rotate(-90)" text-anchor="middle">-0.2</text><text class="a" transform="translate(110.6 1128.1) rotate(-90)" text-anchor="middle">-0.1</text><text class="a" transform="translate(110.6 1027.2) rotate(-90)" text-anchor="middle">0.0</text><text class="a" transform="translate(110.6 926.3) rotate(-90)" text-anchor="middle">0.1</text>
<text class="a" x="459.4" y="1444.9" text-anchor="middle">Index</text>
<text class="a" transform="translate(31.7 1089.6) rotate(-90)" text-anchor="middle">residual</text>
</g>
<g>
<g fill="#000"><circle cx="980.7" cy="1279.2" r="7.43"/><circle cx="983.5" cy="1279.2" r="7.43"/><circle cx="986.3" cy="1279.2" r="7.43"/><circle cx="989.1" cy="1279.2" r="7.43"/><circle cx="991.9" cy="1279.2" r="7.43"/><circle cx="994.7" cy="1279.2" r="7.43"/><circle cx="997.5" cy="1279.2" r="7.43"/><circle cx="1000.3" cy="1279.2" r="7.43"/><circle cx="1003.1" cy="1279.2" r="7.43"/><circle cx="1005.9" cy="1279.2" r="7.43"/><circle cx="1008.7" cy="1279.2" r="7.43"/><circle cx="1011.5" cy="1279.2" r="7.43"/><circle cx="1014.3" cy="1279.2" r="7.43"/><circle cx="1017.1" cy="1151.8" r="7.43"/><circle cx="1019.9" cy="1279.2" r="7.43"/><circle cx="1022.7" cy="1124.3" r="7.43"/><circle cx="1025.5" cy="1279.2" r="7.43"/><circle cx="1028.3" cy="1279.2" r="7.43"/><circle cx="1031.1" cy="1279.2" r="7.43"/><circle cx="1033.9" cy="1279.2" r="7.43"/><circle cx="1036.7" cy="1279.2" r="7.43"/><circle cx="1039.5" cy="1279.2" r="7.43"/><circle cx="1042.3" cy="1279.2" r="7.43"/><circle cx="1045.1" cy="1279.2" r="7.43"/><circle cx="1047.9" cy="1279.2" r="7.43"/><circle cx="1050.7" cy="1279.2" r="7.43"/><circle cx="1053.5" cy="1279.2" r="7.43"/><circle cx="1056.3" cy="1279.2" r="7.43"/><circle cx="1059.1" cy="1279.2" r="7.43"/><circle cx="1061.9" cy="1279.2" r="7.43"/><circle cx="1064.7" cy="1279.2" r="7.43"/><circle cx="1067.5" cy="1279.2" r="7.43"/><circle cx="1070.3" cy="1279.2" r="7.43"/><circle cx="1073.1" cy="1279.2" r="7.43"/><circle cx="1075.9" cy="1279.2" r="7.43"/><circle cx="1078.7" cy="1279.2" r="7.43"/><circle cx="1081.5" cy="1132.2" r="7.43"/><circle cx="1084.3" cy="1279.2" r="7.43"/><circle cx="1087.1" cy="1279.2" r="7.43"/><circle cx="1089.9" cy="1279.2" r="7.43"/><circle cx="1092.7" cy="1279.2" r="7.43"/><circle cx="1095.5" cy="1205" r="7.43"/><circle cx="1098.3" cy="1279.2" r="7.43"/><circle cx="1101.1" cy="1279.2" r="7.43"/><circle cx="1103.9" cy="1279.2" r="7.43"/><circle cx="1106.7" cy="1279.2" r="7.43"/><circle cx="1109.5" cy="1279.2" r="7.43"/><circle cx="1112.3" cy="1279.2" r="7.43"/><circle cx="1115.1" cy="1279.2" r="7.43"/><circle cx="1117.9" cy="1132.2" r="7.43"/><circle cx="1120.7" cy="1279.2" r="7.43"/><circle cx="1123.5" cy="1279.2" r="7.43"/><circle cx="1126.4" cy="1279.2" r="7.43"/><circle cx="1129.2" cy="1279.2" r="7.43"/><circle cx="1132" cy="1279.2" r="7.43"/><circle cx="1134.8" cy="1279.2" r="7.43"/><circle cx="1137.6" cy="1279.2" r="7.43"/><circle cx="1143.2" cy="1279.2" r="7.43"/><circle cx="1146" cy="1279.2" r="7.43"/><circle cx="1148.8" cy="1279.2" r="7.43"/><circle cx="1151.6" cy="1279.2" r="7.43"/><circle cx="1154.4" cy="1279.2" r="7.43"/><circle cx="1157.2" cy="1279.2" r="7.43"/><circle cx="1160" cy="1279.2" r="7.43"/><circle cx="1162.8" cy="1279.2" r="7.43"/><circle cx="1165.6" cy="1279.2" r="7.43"/><circle cx="1168.4" cy="1279.2" r="7.43"/><circle cx="1171.2" cy="1279.2" r="7.43"/><circle cx="1174" cy="1061.8" r="7.43"/><circle cx="1176.8" cy="1279.2" r="7.43"/><circle cx="1179.6" cy="1279.2" r="7.43"/><circle cx="1182.4" cy="1279.2" r="7.43"/><circle cx="1185.2" cy="1279.2" r="7.43"/><circle cx="1188" cy="899.9" r="7.43"/><circle cx="1190.8" cy="1279.2" r="7.43"/><circle cx="1193.6" cy="1279.2" r="7.43"/><circle cx="1196.4" cy="1263.8" r="7.43"/><circle cx="1199.2" cy="1279.2" r="7.43"/><circle cx="1202" cy="1279.2" r="7.43"/><circle cx="1204.8" cy="1279.2" r="7.43"/><circle cx="1207.6" cy="1279.2" r="7.43"/><circle cx="1210.4" cy="1279.2" r="7.43"/><circle cx="1213.2" cy="1279.2" r="7.43"/><circle cx="1216" cy="1279.2" r="7.43"/><circle cx="1218.8" cy="1279.2" r="7.43"/><circle cx="1221.6" cy="1279.2" r="7.43"/><circle cx="1224.4" cy="1279.2" r="7.43"/><circle cx="1227.2" cy="1279.2" r="7.43"/><circle cx="1230" cy="1279.2" r="7.43"/><circle cx="1232.8" cy="1279.2" r="7.43"/><circle cx="1235.6" cy="1279.2" r="7.43"/><circle cx="1238.4" cy="1279.2" r="7.43"/><circle cx="1241.2" cy="1279.2" r="7.43"/><circle cx="1244" cy="1262.6" r="7.43"/><circle cx="1246.8" cy="1279.2" r="7.43"/><circle cx="1249.6" cy="1279.2" r="7.43"/><circle cx="1252.4" cy="1279.2" r="7.43"/><circle cx="1255.2" cy="1279.2" r="7.43"/><circle cx="1258" cy="1279.2" r="7.43"/><circle cx="1263.6" cy="1279.2" r="7.43"/><circle cx="1266.4" cy="1279.2" r="7.43"/><circle cx="1269.2" cy="1279.2" r="7.43"/><circle cx="1272" cy="1279.2" r="7.43"/><circle cx="1274.8" cy="1279.2" r="7.43"/><circle cx="1277.6" cy="1279.2" r="7.43"/><circle cx="1280.4" cy="1279.2" r="7.43"/><circle cx="1283.2" cy="1279.2" r="7.43"/><circle cx="1286" cy="1279.2" r="7.43"/><circle cx="1288.8" cy="1279.2" r="7.43"/><circle cx="1291.6" cy="1279.2" r="7.43"/><circle cx="1294.4" cy="1279.2" r="7.43"/><circle cx="1297.2" cy="1279.2" r="7.43"/><circle cx="1300" cy="1279.2" r="7.43"/><circle cx="1302.8" cy="1279.2" r="7.43"/><circle cx="1305.6" cy="1279.2" r="7.43"/><circle cx="1308.4" cy="1279.2" r="7.43"/><circle cx="1311.2" cy="1279.2" r="7.43"/><circle cx="1314" cy="1279.2" r="7.43"/><circle cx="1316.8" cy="1279.2" r="7.43"/><circle cx="1319.6" cy="1279.2" r="7.43"/><circle cx="1322.4" cy="1279.2" r="7.43"/><circle cx="1325.2" cy="1279.2" r="7.43"/><circle cx="1328" cy="1279.2" r="7.43"/><circle cx="1330.8" cy="1279.2" r="7.43"/><circle cx="1333.6" cy="1279.2" r="7.43"/><circle cx="1336.4" cy="1279.2" r="7.43"/><circle cx="1339.2" cy="1262.6" r="7.43"/><circle cx="1342" cy="1279.2" r="7.43"/><circle cx="1344.8" cy="1279.2" r="7.43"/><circle cx="1347.6" cy="1279.2" r="7.43"/><circle cx="1350.4" cy="1279.2" r="7.43"/><circle cx="1353.2" cy="1279.2" r="7.43"/><circle cx="1356" cy="1279.2" r="7.43"/><circle cx="1358.8" cy="1279.2" r="7.43"/><circle cx="1361.6" cy="1279.2" r="7.43"/><circle cx="1364.4" cy="1279.2" r="7.43"/><circle cx="1367.2" cy="1279.2" r="7.43"/><circle cx="1370" cy="1279.2" r="7.43"/><circle cx="1372.8" cy="1279.2" r="7.43"/><circle cx="1375.6" cy="1279.2" r="7.43"/><circle cx="1378.4" cy="1279.2" r="7.43"/><circle cx="1381.2" cy="1279.2" r="7.43"/><circle cx="1384" cy="1279.2" r="7.43"/><circle cx="1386.8" cy="1279.2" r="7.43"/><circle cx="1389.6" cy="1279.2" r="7.43"/><circle cx="1392.4" cy="1279.2" r="7.43"/><circle cx="1395.3" cy="1279.2" r="7.43"/><circle cx="1398.1" cy="1279.2" r="7.43"/><circle cx="1400.9" cy="1279.2" r="7.43"/><circle cx="1403.7" cy="1279.2" r="7.43"/><circle cx="1406.5" cy="1279.2" r="7.43"/><circle cx="1409.3" cy="1279.2" r="7.43"/><circle cx="1412.1" cy="1279.2" r="7.43"/><circle cx="1414.9" cy="1279.2" r="7.43"/><circle cx="1417.7" cy="1279.2" r="7.43"/><circle cx="1420.5" cy="1279.2" r="7.43"/><circle cx="1423.3" cy="1279.2" r="7.43"/><circle cx="1426.1" cy="1279.2" r="7.43"/><circle cx="1428.9" cy="1279.2" r="7.43"/><circle cx="1431.7" cy="1279.2" r="7.43"/><circle cx="1434.5" cy="1279.2" r="7.43"/><circle cx="1437.3" cy="1279.2" r="7.43"/><circle cx="1440.1" cy="1279.2" r="7.43"/><circle cx="1442.9" cy="1279.2" r="7.43"/><circle cx="1445.7" cy="1279.2" r="7.43"/><circle cx="1448.5" cy="1279.2" r="7.43"/><circle cx="1451.3" cy="1279.2" r="7.43"/><circle cx="1454.1" cy="1279.2" r="7.43"/><circle cx="1456.9" cy="1279.2" r="7.43"/><circle cx="1459.7" cy="1279.2" r="7.43"/><circle cx="1462.5" cy="1279.2" r="7.43"/><circle cx="1465.3" cy="1279.2" r="7.43"/><circle cx="1468.1" cy="1279.2" r="7.43"/><circle cx="1470.9" cy="1279.2" r="7.43"/><circle cx="1473.7" cy="1279.2" r="7.43"/><circle cx="1476.5" cy="1279.2" r="7.43"/><circle cx="1479.3" cy="1279.2" r="7.43"/><circle cx="1482.1" cy="1279.2" r="7.43"/><circle cx="1484.9" cy="1279.2" r="7.43"/><circle cx="1487.7" cy="1279.2" r="7.43"/><circle cx="1490.5" cy="1279.2" r="7.43"/><circle cx="1493.3" cy="1279.2" r="7.43"/><circle cx="1496.1" cy="1279.2" r="7.43"/><circle cx="1498.9" cy="1279.2" r="7.43"/><circle cx="1501.7" cy="1279.2" r="7.43"/><circle cx="1504.5" cy="1279.2" r="7.43"/><circle cx="1507.3" cy="1279.2" r="7.43"/><circle cx="1510.1" cy="1279.2" r="7.43"/><circle cx="1512.9" cy="1279.2" r="7.43"/><circle cx="1515.7" cy="1279.2" r="7.43"/><circle cx="1518.5" cy="1279.2" r="7.43"/><circle cx="1521.3" cy="1279.2" r="7.43"/><circle cx="1524.1" cy="1279.2" r="7.43"/><circle cx="1526.9" cy="1279.2" r="7.43"/><circle cx="1529.7" cy="1279.2" r="7.43"/><circle cx="1532.5" cy="1279.2" r="7.43"/><circle cx="1535.3" cy="1279.2" r="7.43"/><circle cx="1538.1" cy="1279.2" r="7.43"/><circle cx="1140.4" cy="931.5" r="7.43" fill="#D63C5A"/><circle cx="1260.8" cy="1279.2" r="7.43" fill="#D63C5A"/></g>
<rect class="l" x="958.4" y="884.8" width="602" height="409.6"/>
<path class="l" d="M977.9 1294.4H1538.1M977.9 1294.4v19.8M1117.9 1294.4v19.8M1258 1294.4v19.8M1398.1 1294.4v19.8M1538.1 1294.4v19.8M958.4 1279.2V950.1M958.4 1279.2h-19.8M958.4 1196.9h-19.8M958.4 1114.6h-19.8M958.4 1032.4h-19.8M958.4 950.1h-19.8"/>
<text class="a" x="977.9" y="1366.4" text-anchor="middle">0</text><text class="a" x="1117.9" y="1366.4" text-anchor="middle">50</text><text class="a" x="1258" y="1366.4" text-anchor="middle">100</text><text class="a" x="1398.1" y="1366.4" text-anchor="middle">150</text><text class="a" x="1538.1" y="1366.4" text-anchor="middle">200</text>
<text class="a" transform="translate(910.6 1279.6) rotate(-90)" text-anchor="middle">0.00</text><text class="a" transform="translate(910.6 1115) rotate(-90)" text-anchor="middle">0.10</text><text class="a" transform="translate(910.6 950.5) rotate(-90)" text-anchor="middle">0.20</text>
<text class="a" x="1259.4" y="1444.9" text-anchor="middle">variable</text>
<text class="a" transform="translate(831.7 1089.6) rotate(-90)" text-anchor="middle">PIP</text>
</g>
<g>
<g fill="#000"><circle cx="1780.7" cy="964.4" r="7.43"/><circle cx="1783.5" cy="1174.6" r="7.43"/><circle cx="1786.3" cy="1014.4" r="7.43"/><circle cx="1789.1" cy="964.4" r="7.43"/><circle cx="1791.9" cy="1103.6" r="7.43"/><circle cx="1794.7" cy="964.4" r="7.43"/><circle cx="1797.5" cy="964.4" r="7.43"/><circle cx="1800.3" cy="964.4" r="7.43"/><circle cx="1803.1" cy="1047.5" r="7.43"/><circle cx="1805.9" cy="1187.4" r="7.43"/><circle cx="1808.7" cy="1003.6" r="7.43"/><circle cx="1811.5" cy="975.6" r="7.43"/><circle cx="1814.3" cy="1086.6" r="7.43"/><circle cx="1817.1" cy="1148.5" r="7.43"/><circle cx="1819.9" cy="1086.6" r="7.43"/><circle cx="1822.7" cy="1143.7" r="7.43"/><circle cx="1825.5" cy="1108.9" r="7.43"/><circle cx="1828.3" cy="1125.4" r="7.43"/><circle cx="1831.1" cy="964.4" r="7.43"/><circle cx="1833.9" cy="964.4" r="7.43"/><circle cx="1836.7" cy="964.7" r="7.43"/><circle cx="1839.5" cy="1148.2" r="7.43"/><circle cx="1842.3" cy="1087.3" r="7.43"/><circle cx="1845.1" cy="1236.3" r="7.43"/><circle cx="1847.9" cy="964.7" r="7.43"/><circle cx="1850.7" cy="963.7" r="7.43"/><circle cx="1853.5" cy="1098.6" r="7.43"/><circle cx="1856.3" cy="1112.5" r="7.43"/><circle cx="1859.1" cy="1136" r="7.43"/><circle cx="1861.9" cy="1097.1" r="7.43"/><circle cx="1864.7" cy="964.4" r="7.43"/><circle cx="1867.5" cy="1085.1" r="7.43"/><circle cx="1870.3" cy="1088.8" r="7.43"/><circle cx="1873.1" cy="1135.7" r="7.43"/><circle cx="1875.9" cy="1221.5" r="7.43"/><circle cx="1878.7" cy="964.4" r="7.43"/><circle cx="1881.5" cy="1139.1" r="7.43"/><circle cx="1884.3" cy="964.4" r="7.43"/><circle cx="1887.1" cy="1172" r="7.43"/><circle cx="1889.9" cy="1071.1" r="7.43"/><circle cx="1892.7" cy="1071.1" r="7.43"/><circle cx="1895.5" cy="1119.3" r="7.43"/><circle cx="1898.3" cy="1147" r="7.43"/><circle cx="1901.1" cy="1173.1" r="7.43"/><circle cx="1903.9" cy="1085.4" r="7.43"/><circle cx="1906.7" cy="1088.8" r="7.43"/><circle cx="1909.5" cy="964.4" r="7.43"/><circle cx="1912.3" cy="950" r="7.43"/><circle cx="1915.1" cy="964.4" r="7.43"/><circle cx="1917.9" cy="1139.1" r="7.43"/><circle cx="1920.7" cy="1018.9" r="7.43"/><circle cx="1923.5" cy="1186.4" r="7.43"/><circle cx="1926.4" cy="1186.4" r="7.43"/><circle cx="1929.2" cy="1186.4" r="7.43"/><circle cx="1932" cy="964" r="7.43"/><circle cx="1934.8" cy="976.8" r="7.43"/><circle cx="1937.6" cy="1087.3" r="7.43"/><circle cx="1940.4" cy="1180.6" r="7.43" fill="#FB0007"/><circle cx="1943.2" cy="1094.5" r="7.43"/><circle cx="1946" cy="1218.9" r="7.43"/><circle cx="1948.8" cy="1205.7" r="7.43"/><circle cx="1951.6" cy="1165.2" r="7.43"/><circle cx="1954.4" cy="1174.6" r="7.43"/><circle cx="1957.2" cy="1192.9" r="7.43"/><circle cx="1960" cy="981.8" r="7.43"/><circle cx="1962.8" cy="1085.8" r="7.43"/><circle cx="1965.6" cy="1169.4" r="7.43"/><circle cx="1968.4" cy="1157.6" r="7.43"/><circle cx="1971.2" cy="1156.9" r="7.43"/><circle cx="1974" cy="1179.6" r="7.43"/><circle cx="1976.8" cy="1185.9" r="7.43"/><circle cx="1979.6" cy="1091.5" r="7.43"/><circle cx="1982.4" cy="1172.4" r="7.43"/><circle cx="1985.2" cy="1103.4" r="7.43"/><circle cx="1988" cy="1187.4" r="7.43"/><circle cx="1990.8" cy="1023.3" r="7.43"/><circle cx="1993.6" cy="1039.6" r="7.43"/><circle cx="1996.4" cy="1116.3" r="7.43"/><circle cx="1999.2" cy="975.6" r="7.43"/><circle cx="2002" cy="1067.7" r="7.43"/><circle cx="2004.8" cy="906.7" r="7.43"/><circle cx="2007.6" cy="1162.2" r="7.43"/><circle cx="2010.4" cy="1077.8" r="7.43"/><circle cx="2013.2" cy="1056.6" r="7.43"/><circle cx="2016" cy="1161.4" r="7.43"/><circle cx="2018.8" cy="1085.1" r="7.43"/><circle cx="2021.6" cy="1119.8" r="7.43"/><circle cx="2024.4" cy="944.3" r="7.43"/><circle cx="2027.2" cy="1089.6" r="7.43"/><circle cx="2030" cy="1173.1" r="7.43"/><circle cx="2032.8" cy="1083.5" r="7.43"/><circle cx="2035.6" cy="1076.7" r="7.43"/><circle cx="2038.4" cy="1122.8" r="7.43"/><circle cx="2041.2" cy="1079.8" r="7.43"/><circle cx="2044" cy="1116.7" r="7.43"/><circle cx="2046.8" cy="1123.3" r="7.43"/><circle cx="2049.6" cy="1080.5" r="7.43"/><circle cx="2052.4" cy="1068" r="7.43"/><circle cx="2055.2" cy="1106.6" r="7.43"/><circle cx="2058" cy="1255.2" r="7.43"/><circle cx="2060.8" cy="1060.4" r="7.43" fill="#FB0007"/><circle cx="2063.6" cy="1060.4" r="7.43"/><circle cx="2066.4" cy="1173.1" r="7.43"/><circle cx="2069.2" cy="1010.9" r="7.43"/><circle cx="2072" cy="1123.6" r="7.43"/><circle cx="2074.8" cy="1123.9" r="7.43"/><circle cx="2077.6" cy="1242.1" r="7.43"/><circle cx="2080.4" cy="975.6" r="7.43"/><circle cx="2083.2" cy="1100.4" r="7.43"/><circle cx="2086" cy="1097.8" r="7.43"/><circle cx="2088.8" cy="1123.3" r="7.43"/><circle cx="2091.6" cy="1069.6" r="7.43"/><circle cx="2094.4" cy="1069.6" r="7.43"/><circle cx="2097.2" cy="1068.4" r="7.43"/><circle cx="2100" cy="1069.6" r="7.43"/><circle cx="2102.8" cy="1011.9" r="7.43"/><circle cx="2105.6" cy="1242.1" r="7.43"/><circle cx="2108.4" cy="1091.8" r="7.43"/><circle cx="2111.2" cy="1104.9" r="7.43"/><circle cx="2114" cy="1092.6" r="7.43"/><circle cx="2116.8" cy="1093.2" r="7.43"/><circle cx="2119.6" cy="1094.4" r="7.43"/><circle cx="2122.4" cy="1089.4" r="7.43"/><circle cx="2125.2" cy="1096.7" r="7.43"/><circle cx="2128" cy="1145.5" r="7.43"/><circle cx="2130.8" cy="1095.6" r="7.43"/><circle cx="2133.6" cy="1091.2" r="7.43"/><circle cx="2136.4" cy="1145.5" r="7.43"/><circle cx="2139.2" cy="1117.5" r="7.43"/><circle cx="2142" cy="1104.9" r="7.43"/><circle cx="2144.8" cy="1106.1" r="7.43"/><circle cx="2147.6" cy="1279" r="7.43"/><circle cx="2150.4" cy="1090.9" r="7.43"/><circle cx="2153.2" cy="1062.4" r="7.43"/><circle cx="2156" cy="1072.9" r="7.43"/><circle cx="2158.8" cy="1040.4" r="7.43"/><circle cx="2161.6" cy="1128.6" r="7.43"/><circle cx="2164.4" cy="1106.4" r="7.43"/><circle cx="2167.2" cy="1173.1" r="7.43"/><circle cx="2170" cy="983.6" r="7.43"/><circle cx="2172.8" cy="1098.2" r="7.43"/><circle cx="2175.6" cy="1063.9" r="7.43"/><circle cx="2178.4" cy="1047.7" r="7.43"/><circle cx="2181.2" cy="1094.4" r="7.43"/><circle cx="2184" cy="1105.8" r="7.43"/><circle cx="2186.8" cy="1087.4" r="7.43"/><circle cx="2189.6" cy="1093.8" r="7.43"/><circle cx="2192.4" cy="1050.2" r="7.43"/><circle cx="2195.3" cy="1078.2" r="7.43"/><circle cx="2198.1" cy="1124" r="7.43"/><circle cx="2200.9" cy="1079" r="7.43"/><circle cx="2203.7" cy="1047.7" r="7.43"/><circle cx="2206.5" cy="1047.7" r="7.43"/><circle cx="2209.3" cy="1254.2" r="7.43"/><circle cx="2212.1" cy="1106.5" r="7.43"/><circle cx="2214.9" cy="1047.7" r="7.43"/><circle cx="2217.7" cy="1070.7" r="7.43"/><circle cx="2220.5" cy="1034.7" r="7.43"/><circle cx="2223.3" cy="1173.1" r="7.43"/><circle cx="2226.1" cy="1091" r="7.43"/><circle cx="2228.9" cy="1120.5" r="7.43"/><circle cx="2231.7" cy="1206.5" r="7.43"/><circle cx="2234.5" cy="1026.8" r="7.43"/><circle cx="2237.3" cy="1011.6" r="7.43"/><circle cx="2240.1" cy="1060.4" r="7.43"/><circle cx="2242.9" cy="925.7" r="7.43"/><circle cx="2245.7" cy="1000.3" r="7.43"/><circle cx="2248.5" cy="1031.3" r="7.43"/><circle cx="2251.3" cy="1202" r="7.43"/><circle cx="2254.1" cy="911" r="7.43"/><circle cx="2256.9" cy="1120.5" r="7.43"/><circle cx="2259.7" cy="1241.2" r="7.43"/><circle cx="2262.5" cy="1162.2" r="7.43"/><circle cx="2265.3" cy="1031" r="7.43"/><circle cx="2268.1" cy="1259.8" r="7.43"/><circle cx="2270.9" cy="1137.9" r="7.43"/><circle cx="2273.7" cy="1170.8" r="7.43"/><circle cx="2276.5" cy="1161.4" r="7.43"/><circle cx="2279.3" cy="1170.8" r="7.43"/><circle cx="2282.1" cy="899.6" r="7.43"/><circle cx="2284.9" cy="1097.1" r="7.43"/><circle cx="2287.7" cy="1241.2" r="7.43"/><circle cx="2290.5" cy="1260.1" r="7.43"/><circle cx="2293.3" cy="1139.9" r="7.43"/><circle cx="2296.1" cy="992.7" r="7.43"/><circle cx="2298.9" cy="1052.5" r="7.43"/><circle cx="2301.7" cy="899.6" r="7.43"/><circle cx="2304.5" cy="985.9" r="7.43"/><circle cx="2307.3" cy="1128.4" r="7.43"/><circle cx="2310.1" cy="1047.7" r="7.43"/><circle cx="2312.9" cy="1029.5" r="7.43"/><circle cx="2315.7" cy="1241.6" r="7.43"/><circle cx="2318.5" cy="1033.6" r="7.43"/><circle cx="2321.3" cy="1238.3" r="7.43"/><circle cx="2324.1" cy="1044.2" r="7.43"/><circle cx="2326.9" cy="907.5" r="7.43"/><circle cx="2329.7" cy="1112.2" r="7.43"/><circle cx="2332.5" cy="1196.2" r="7.43"/><circle cx="2335.3" cy="1192.7" r="7.43"/><circle cx="2338.1" cy="1135.2" r="7.43"/></g>
<rect class="l" x="1758.4" y="884.8" width="602" height="409.6"/>
<path class="l" d="M1777.9 1294.4H2338.1M1777.9 1294.4v19.8M1917.9 1294.4v19.8M2058 1294.4v19.8M2198.1 1294.4v19.8M2338.1 1294.4v19.8M1758.4 1251.2V904.7M1758.4 1251.2h-19.8M1758.4 1164.6h-19.8M1758.4 1077.9h-19.8M1758.4 991.3h-19.8M1758.4 904.7h-19.8"/>
<text class="a" x="1777.9" y="1366.4" text-anchor="middle">0</text><text class="a" x="1917.9" y="1366.4" text-anchor="middle">50</text><text class="a" x="2058" y="1366.4" text-anchor="middle">100</text><text class="a" x="2198.1" y="1366.4" text-anchor="middle">150</text><text class="a" x="2338.1" y="1366.4" text-anchor="middle">200</text>
<text class="a" transform="translate(1710.6 1251.6) rotate(-90)" text-anchor="middle">-0.02</text><text class="a" transform="translate(1710.6 1078.3) rotate(-90)" text-anchor="middle">0.00</text><text class="a" transform="translate(1710.6 905.1) rotate(-90)" text-anchor="middle">0.02</text>
<text class="a" x="2059.4" y="1444.9" text-anchor="middle">Index</text>
<text class="a" transform="translate(1631.7 1089.6) rotate(-90)" text-anchor="middle">residual</text>
</g>
<g>
<g fill="#000"><circle cx="180.7" cy="1603.2" r="7.43"/><circle cx="183.5" cy="1826.7" r="7.43"/><circle cx="186.3" cy="1655.4" r="7.43"/><circle cx="189.1" cy="1603.2" r="7.43"/><circle cx="191.9" cy="1757.8" r="7.43"/><circle cx="194.7" cy="1603.2" r="7.43"/><circle cx="197.5" cy="1603.2" r="7.43"/><circle cx="200.3" cy="1603.2" r="7.43"/><circle cx="203.1" cy="1684.2" r="7.43"/><circle cx="205.9" cy="1838.5" r="7.43"/><circle cx="208.7" cy="1649.4" r="7.43"/><circle cx="211.5" cy="1618" r="7.43"/><circle cx="214.3" cy="1723.8" r="7.43"/><circle cx="217.1" cy="1801.4" r="7.43"/><circle cx="219.9" cy="1723.8" r="7.43"/><circle cx="222.7" cy="1796.8" r="7.43"/><circle cx="225.5" cy="1749.5" r="7.43"/><circle cx="228.3" cy="1762" r="7.43"/><circle cx="231.1" cy="1603.2" r="7.43"/><circle cx="233.9" cy="1603.2" r="7.43"/><circle cx="236.7" cy="1603.2" r="7.43"/><circle cx="239.5" cy="1787.3" r="7.43"/><circle cx="242.3" cy="1724.7" r="7.43"/><circle cx="245.1" cy="1887.2" r="7.43"/><circle cx="247.9" cy="1603.5" r="7.43"/><circle cx="250.7" cy="1602.4" r="7.43"/><circle cx="253.5" cy="1734.9" r="7.43"/><circle cx="256.3" cy="1765.8" r="7.43"/><circle cx="259.1" cy="1779.9" r="7.43"/><circle cx="261.9" cy="1732.6" r="7.43"/><circle cx="264.7" cy="1603.2" r="7.43"/><circle cx="267.5" cy="1723.5" r="7.43"/><circle cx="270.3" cy="1732.2" r="7.43"/><circle cx="273.1" cy="1773.4" r="7.43"/><circle cx="275.9" cy="1865" r="7.43"/><circle cx="278.7" cy="1603.2" r="7.43"/><circle cx="281.5" cy="1792.3" r="7.43"/><circle cx="284.3" cy="1603.2" r="7.43"/><circle cx="287.1" cy="1824.4" r="7.43"/><circle cx="289.9" cy="1705.8" r="7.43"/><circle cx="292.7" cy="1705.8" r="7.43"/><circle cx="295.5" cy="1773.4" r="7.43"/><circle cx="298.3" cy="1789.3" r="7.43"/><circle cx="301.1" cy="1825.2" r="7.43"/><circle cx="303.9" cy="1722.8" r="7.43"/><circle cx="306.7" cy="1727.8" r="7.43"/><circle cx="309.5" cy="1603.2" r="7.43"/><circle cx="312.3" cy="1589.6" r="7.43"/><circle cx="315.1" cy="1603.2" r="7.43"/><circle cx="317.9" cy="1792.6" r="7.43"/><circle cx="320.7" cy="1667.1" r="7.43"/><circle cx="323.5" cy="1837.3" r="7.43"/><circle cx="326.4" cy="1837.3" r="7.43"/><circle cx="329.2" cy="1837.3" r="7.43"/><circle cx="332" cy="1602.9" r="7.43"/><circle cx="334.8" cy="1619.1" r="7.43"/><circle cx="337.6" cy="1725.8" r="7.43"/><circle cx="340.4" cy="1835.1" r="7.43" fill="#FB0007"/><circle cx="343.2" cy="1731.1" r="7.43"/><circle cx="346" cy="1868" r="7.43"/><circle cx="348.8" cy="1855.4" r="7.43"/><circle cx="351.6" cy="1817.3" r="7.43"/><circle cx="354.4" cy="1825.6" r="7.43"/><circle cx="357.2" cy="1843.3" r="7.43"/><circle cx="360" cy="1632.7" r="7.43"/><circle cx="362.8" cy="1723.5" r="7.43"/><circle cx="365.6" cy="1821.8" r="7.43"/><circle cx="368.4" cy="1810.5" r="7.43"/><circle cx="371.2" cy="1809.7" r="7.43"/><circle cx="374" cy="1833.9" r="7.43"/><circle cx="376.8" cy="1837" r="7.43"/><circle cx="379.6" cy="1728.4" r="7.43"/><circle cx="382.4" cy="1824.5" r="7.43"/><circle cx="385.2" cy="1757.8" r="7.43"/><circle cx="388" cy="1841" r="7.43"/><circle cx="390.8" cy="1663.7" r="7.43"/><circle cx="393.6" cy="1679.6" r="7.43"/><circle cx="396.4" cy="1768.5" r="7.43"/><circle cx="399.2" cy="1618" r="7.43"/><circle cx="402" cy="1717.9" r="7.43"/><circle cx="404.8" cy="1555.2" r="7.43"/><circle cx="407.6" cy="1815" r="7.43"/><circle cx="410.4" cy="1727.3" r="7.43"/><circle cx="413.2" cy="1707.3" r="7.43"/><circle cx="416" cy="1807.7" r="7.43"/><circle cx="418.8" cy="1735.6" r="7.43"/><circle cx="421.6" cy="1762.8" r="7.43"/><circle cx="424.4" cy="1593.1" r="7.43"/><circle cx="427.2" cy="1727.3" r="7.43"/><circle cx="430" cy="1825.3" r="7.43"/><circle cx="432.8" cy="1731.9" r="7.43"/><circle cx="435.6" cy="1725.8" r="7.43"/><circle cx="438.4" cy="1780.5" r="7.43"/><circle cx="441.2" cy="1728.1" r="7.43"/><circle cx="444" cy="1769.1" r="7.43"/><circle cx="446.8" cy="1780.6" r="7.43"/><circle cx="449.6" cy="1729.6" r="7.43"/><circle cx="452.4" cy="1718.2" r="7.43"/><circle cx="455.2" cy="1754.2" r="7.43"/><circle cx="458" cy="1902.3" r="7.43"/><circle cx="460.8" cy="1704.6" r="7.43" fill="#FB0007"/><circle cx="463.6" cy="1704.6" r="7.43"/><circle cx="466.4" cy="1825.3" r="7.43"/><circle cx="469.2" cy="1658.4" r="7.43"/><circle cx="472" cy="1780.5" r="7.43"/><circle cx="474.8" cy="1780.6" r="7.43"/><circle cx="477.6" cy="1892.7" r="7.43"/><circle cx="480.4" cy="1617.9" r="7.43"/><circle cx="483.2" cy="1739.3" r="7.43"/><circle cx="486" cy="1752.6" r="7.43"/><circle cx="488.8" cy="1780.2" r="7.43"/><circle cx="491.6" cy="1719.8" r="7.43"/><circle cx="494.4" cy="1719.8" r="7.43"/><circle cx="497.2" cy="1719.4" r="7.43"/><circle cx="500" cy="1719.8" r="7.43"/><circle cx="502.8" cy="1656.9" r="7.43"/><circle cx="505.6" cy="1892.7" r="7.43"/><circle cx="508.4" cy="1746.9" r="7.43"/><circle cx="511.2" cy="1741" r="7.43"/><circle cx="514" cy="1750.4" r="7.43"/><circle cx="516.8" cy="1746.9" r="7.43"/><circle cx="519.6" cy="1728.4" r="7.43"/><circle cx="522.4" cy="1743.9" r="7.43"/><circle cx="525.2" cy="1751.6" r="7.43"/><circle cx="528" cy="1787.8" r="7.43"/><circle cx="530.8" cy="1748.6" r="7.43"/><circle cx="533.6" cy="1728.4" r="7.43"/><circle cx="536.4" cy="1787.8" r="7.43"/><circle cx="539.2" cy="1769.7" r="7.43"/><circle cx="542" cy="1758.6" r="7.43"/><circle cx="544.8" cy="1759.8" r="7.43"/><circle cx="547.6" cy="1926.3" r="7.43"/><circle cx="550.4" cy="1745.4" r="7.43"/><circle cx="553.2" cy="1704.6" r="7.43"/><circle cx="556" cy="1722.5" r="7.43"/><circle cx="558.8" cy="1692.5" r="7.43"/><circle cx="561.6" cy="1781" r="7.43"/><circle cx="564.4" cy="1760.4" r="7.43"/><circle cx="567.2" cy="1825.3" r="7.43"/><circle cx="570" cy="1634.5" r="7.43"/><circle cx="572.8" cy="1758" r="7.43"/><circle cx="575.6" cy="1705.8" r="7.43"/><circle cx="578.4" cy="1699" r="7.43"/><circle cx="581.2" cy="1748" r="7.43"/><circle cx="584" cy="1759.8" r="7.43"/><circle cx="586.8" cy="1724.6" r="7.43"/><circle cx="589.6" cy="1753.3" r="7.43"/><circle cx="592.4" cy="1701.6" r="7.43"/><circle cx="595.3" cy="1719.8" r="7.43"/><circle cx="598.1" cy="1781.4" r="7.43"/><circle cx="600.9" cy="1720.5" r="7.43"/><circle cx="603.7" cy="1699" r="7.43"/><circle cx="606.5" cy="1699.3" r="7.43"/><circle cx="609.3" cy="1904.3" r="7.43"/><circle cx="612.1" cy="1760.2" r="7.43"/><circle cx="614.9" cy="1699" r="7.43"/><circle cx="617.7" cy="1710.4" r="7.43"/><circle cx="620.5" cy="1671.3" r="7.43"/><circle cx="623.3" cy="1825.3" r="7.43"/><circle cx="626.1" cy="1742.8" r="7.43"/><circle cx="628.9" cy="1773.4" r="7.43"/><circle cx="631.7" cy="1841" r="7.43"/><circle cx="634.5" cy="1671.3" r="7.43"/><circle cx="637.3" cy="1656.5" r="7.43"/><circle cx="640.1" cy="1704.3" r="7.43"/><circle cx="642.9" cy="1565.1" r="7.43"/><circle cx="645.7" cy="1633.9" r="7.43"/><circle cx="648.5" cy="1675.9" r="7.43"/><circle cx="651.3" cy="1839.2" r="7.43"/><circle cx="654.1" cy="1562.3" r="7.43"/><circle cx="656.9" cy="1760.5" r="7.43"/><circle cx="659.7" cy="1891.8" r="7.43"/><circle cx="662.5" cy="1815.8" r="7.43"/><circle cx="665.3" cy="1675.6" r="7.43"/><circle cx="668.1" cy="1906.9" r="7.43"/><circle cx="670.9" cy="1788.5" r="7.43"/><circle cx="673.7" cy="1823" r="7.43"/><circle cx="676.5" cy="1815" r="7.43"/><circle cx="679.3" cy="1823" r="7.43"/><circle cx="682.1" cy="1546.9" r="7.43"/><circle cx="684.9" cy="1737.5" r="7.43"/><circle cx="687.7" cy="1891.9" r="7.43"/><circle cx="690.5" cy="1906.9" r="7.43"/><circle cx="693.3" cy="1785.8" r="7.43"/><circle cx="696.1" cy="1638.5" r="7.43"/><circle cx="698.9" cy="1694.5" r="7.43"/><circle cx="701.7" cy="1546.9" r="7.43"/><circle cx="704.5" cy="1628.2" r="7.43"/><circle cx="707.3" cy="1767.3" r="7.43"/><circle cx="710.1" cy="1689.2" r="7.43"/><circle cx="712.9" cy="1673.9" r="7.43"/><circle cx="715.7" cy="1892.2" r="7.43"/><circle cx="718.5" cy="1676.3" r="7.43"/><circle cx="721.3" cy="1889.2" r="7.43"/><circle cx="724.1" cy="1696" r="7.43"/><circle cx="726.9" cy="1554.3" r="7.43"/><circle cx="729.7" cy="1763.2" r="7.43"/><circle cx="732.5" cy="1847.2" r="7.43"/><circle cx="735.3" cy="1843.8" r="7.43"/><circle cx="738.1" cy="1786.2" r="7.43"/></g>
<rect class="l" x="158.4" y="1532" width="602" height="409.6"/>
<path class="l" d="M177.9 1941.6H738.1M177.9 1941.6v19.8M317.9 1941.6v19.8M458 1941.6v19.8M598.1 1941.6v19.8M738.1 1941.6v19.8M158.4 1884.4V1559.6M158.4 1884.4h-19.8M158.4 1803.2h-19.8M158.4 1722h-19.8M158.4 1640.8h-19.8M158.4 1559.6h-19.8"/>
<text class="a" x="177.9" y="2013.6" text-anchor="middle">0</text><text class="a" x="317.9" y="2013.6" text-anchor="middle">50</text><text class="a" x="458" y="2013.6" text-anchor="middle">100</text><text class="a" x="598.1" y="2013.6" text-anchor="middle">150</text><text class="a" x="738.1" y="2013.6" text-anchor="middle">200</text>
<text class="a" transform="translate(110.6 1884.8) rotate(-90)" text-anchor="middle">-0.02</text><text class="a" transform="translate(110.6 1722.4) rotate(-90)" text-anchor="middle">0.00</text><text class="a" transform="translate(110.6 1560) rotate(-90)" text-anchor="middle">0.02</text>
<text class="a" x="459.4" y="2092.1" text-anchor="middle">Index</text>
<text class="a" transform="translate(31.7 1736.8) rotate(-90)" text-anchor="middle">residual</text>
</g>
<g>
<g fill="#000"><circle cx="980.7" cy="1803.7" r="7.43"/><circle cx="983.5" cy="1832.1" r="7.43"/><circle cx="986.3" cy="1888.4" r="7.43"/><circle cx="989.1" cy="1803.7" r="7.43"/><circle cx="991.9" cy="1915.4" r="7.43"/><circle cx="994.7" cy="1803.4" r="7.43"/><circle cx="997.5" cy="1803.7" r="7.43"/><circle cx="1000.3" cy="1804" r="7.43"/><circle cx="1003.1" cy="1913.9" r="7.43"/><circle cx="1005.9" cy="1809.7" r="7.43"/><circle cx="1008.7" cy="1880.9" r="7.43"/><circle cx="1011.5" cy="1833.2" r="7.43"/><circle cx="1014.3" cy="1926.4" r="7.43"/><circle cx="1017.1" cy="1871.8" r="7.43"/><circle cx="1019.9" cy="1926.4" r="7.43"/><circle cx="1022.7" cy="1879.3" r="7.43"/><circle cx="1025.5" cy="1920.2" r="7.43"/><circle cx="1028.3" cy="1912.2" r="7.43"/><circle cx="1031.1" cy="1803.7" r="7.43"/><circle cx="1033.9" cy="1803.7" r="7.43"/><circle cx="1036.7" cy="1803.7" r="7.43"/><circle cx="1039.5" cy="1889.9" r="7.43"/><circle cx="1042.3" cy="1926.4" r="7.43"/><circle cx="1045.1" cy="1684.6" r="7.43"/><circle cx="1047.9" cy="1804.4" r="7.43"/><circle cx="1050.7" cy="1802.9" r="7.43"/><circle cx="1053.5" cy="1925.5" r="7.43"/><circle cx="1056.3" cy="1910.4" r="7.43"/><circle cx="1059.1" cy="1898" r="7.43"/><circle cx="1061.9" cy="1926.3" r="7.43"/><circle cx="1064.7" cy="1803.7" r="7.43"/><circle cx="1067.5" cy="1926.4" r="7.43"/><circle cx="1070.3" cy="1925.5" r="7.43"/><circle cx="1073.1" cy="1903.6" r="7.43"/><circle cx="1075.9" cy="1747.7" r="7.43"/><circle cx="1078.7" cy="1803.7" r="7.43"/><circle cx="1081.5" cy="1884.2" r="7.43"/><circle cx="1084.3" cy="1803.7" r="7.43"/><circle cx="1087.1" cy="1836.2" r="7.43"/><circle cx="1089.9" cy="1924.8" r="7.43"/><circle cx="1092.7" cy="1924" r="7.43"/><circle cx="1095.5" cy="1903.6" r="7.43"/><circle cx="1098.3" cy="1888" r="7.43"/><circle cx="1101.1" cy="1834.7" r="7.43"/><circle cx="1103.9" cy="1926.3" r="7.43"/><circle cx="1106.7" cy="1926.3" r="7.43"/><circle cx="1109.5" cy="1803.7" r="7.43"/><circle cx="1112.3" cy="1774.1" r="7.43"/><circle cx="1115.1" cy="1803.7" r="7.43"/><circle cx="1117.9" cy="1884.2" r="7.43"/><circle cx="1120.7" cy="1900.5" r="7.43"/><circle cx="1123.5" cy="1812.7" r="7.43"/><circle cx="1126.4" cy="1813.5" r="7.43"/><circle cx="1129.2" cy="1813.5" r="7.43"/><circle cx="1132" cy="1803.4" r="7.43"/><circle cx="1134.8" cy="1835.1" r="7.43"/><circle cx="1137.6" cy="1926.3" r="7.43"/><circle cx="1143.2" cy="1925.5" r="7.43"/><circle cx="1146" cy="1740.4" r="7.43"/><circle cx="1148.8" cy="1771.1" r="7.43"/><circle cx="1151.6" cy="1847.9" r="7.43"/><circle cx="1154.4" cy="1833.6" r="7.43"/><circle cx="1157.2" cy="1799.1" r="7.43"/><circle cx="1160" cy="1858.1" r="7.43"/><circle cx="1162.8" cy="1926.3" r="7.43"/><circle cx="1165.6" cy="1841.5" r="7.43"/><circle cx="1168.4" cy="1859.7" r="7.43"/><circle cx="1171.2" cy="1860" r="7.43"/><circle cx="1174" cy="1818.8" r="7.43"/><circle cx="1176.8" cy="1812" r="7.43"/><circle cx="1179.6" cy="1926.4" r="7.43"/><circle cx="1182.4" cy="1835.4" r="7.43"/><circle cx="1185.2" cy="1914.9" r="7.43"/><circle cx="1188" cy="1804.1" r="7.43"/><circle cx="1190.8" cy="1897" r="7.43"/><circle cx="1193.6" cy="1911.9" r="7.43"/><circle cx="1196.4" cy="1907.3" r="7.43"/><circle cx="1199.2" cy="1833.5" r="7.43"/><circle cx="1202" cy="1926.3" r="7.43"/><circle cx="1204.8" cy="1679.3" r="7.43"/><circle cx="1207.6" cy="1852.1" r="7.43"/><circle cx="1210.4" cy="1925.5" r="7.43"/><circle cx="1213.2" cy="1925.5" r="7.43"/><circle cx="1216" cy="1863.9" r="7.43"/><circle cx="1218.8" cy="1926.3" r="7.43"/><circle cx="1221.6" cy="1911.9" r="7.43"/><circle cx="1224.4" cy="1782.2" r="7.43"/><circle cx="1227.2" cy="1926.3" r="7.43"/><circle cx="1230" cy="1834.7" r="7.43"/><circle cx="1232.8" cy="1926.3" r="7.43"/><circle cx="1235.6" cy="1926.3" r="7.43"/><circle cx="1238.4" cy="1897" r="7.43"/><circle cx="1241.2" cy="1926.3" r="7.43"/><circle cx="1244" cy="1907.3" r="7.43"/><circle cx="1246.8" cy="1897" r="7.43"/><circle cx="1249.6" cy="1926.3" r="7.43"/><circle cx="1252.4" cy="1926.3" r="7.43"/><circle cx="1255.2" cy="1917.2" r="7.43"/><circle cx="1258" cy="1636.5" r="7.43"/><circle cx="1263.6" cy="1924.4" r="7.43"/><circle cx="1266.4" cy="1835" r="7.43"/><circle cx="1269.2" cy="1892.2" r="7.43"/><circle cx="1272" cy="1897.5" r="7.43"/><circle cx="1274.8" cy="1897.5" r="7.43"/><circle cx="1277.6" cy="1667.1" r="7.43"/><circle cx="1280.4" cy="1833.5" r="7.43"/><circle cx="1283.2" cy="1923.8" r="7.43"/><circle cx="1286" cy="1917.9" r="7.43"/><circle cx="1288.8" cy="1897.5" r="7.43"/><circle cx="1291.6" cy="1926.4" r="7.43"/><circle cx="1294.4" cy="1926.4" r="7.43"/><circle cx="1297.2" cy="1926.4" r="7.43"/><circle cx="1300" cy="1926.4" r="7.43"/><circle cx="1302.8" cy="1889.9" r="7.43"/><circle cx="1305.6" cy="1667.1" r="7.43"/><circle cx="1308.4" cy="1922.6" r="7.43"/><circle cx="1311.2" cy="1923.8" r="7.43"/><circle cx="1314" cy="1919.8" r="7.43"/><circle cx="1316.8" cy="1920.6" r="7.43"/><circle cx="1319.6" cy="1926.1" r="7.43"/><circle cx="1322.4" cy="1920.6" r="7.43"/><circle cx="1325.2" cy="1919.8" r="7.43"/><circle cx="1328" cy="1889.9" r="7.43"/><circle cx="1330.8" cy="1921.4" r="7.43"/><circle cx="1333.6" cy="1926.1" r="7.43"/><circle cx="1336.4" cy="1889.9" r="7.43"/><circle cx="1339.2" cy="1907" r="7.43"/><circle cx="1342" cy="1910.9" r="7.43"/><circle cx="1344.8" cy="1913.6" r="7.43"/><circle cx="1347.6" cy="1546.9" r="7.43"/><circle cx="1350.4" cy="1920.6" r="7.43"/><circle cx="1353.2" cy="1923.8" r="7.43"/><circle cx="1356" cy="1926.4" r="7.43"/><circle cx="1358.8" cy="1922.2" r="7.43"/><circle cx="1361.6" cy="1896.7" r="7.43"/><circle cx="1364.4" cy="1914.8" r="7.43"/><circle cx="1367.2" cy="1835" r="7.43"/><circle cx="1370" cy="1861.2" r="7.43"/><circle cx="1372.8" cy="1915.5" r="7.43"/><circle cx="1375.6" cy="1926.4" r="7.43"/><circle cx="1378.4" cy="1920.6" r="7.43"/><circle cx="1381.2" cy="1922.2" r="7.43"/><circle cx="1384" cy="1914.8" r="7.43"/><circle cx="1386.8" cy="1926.4" r="7.43"/><circle cx="1389.6" cy="1920.6" r="7.43"/><circle cx="1392.4" cy="1918.3" r="7.43"/><circle cx="1395.3" cy="1926.4" r="7.43"/><circle cx="1398.1" cy="1896" r="7.43"/><circle cx="1400.9" cy="1926.1" r="7.43"/><circle cx="1403.7" cy="1923.8" r="7.43"/><circle cx="1406.5" cy="1922.2" r="7.43"/><circle cx="1409.3" cy="1628.6" r="7.43"/><circle cx="1412.1" cy="1913.6" r="7.43"/><circle cx="1414.9" cy="1923.8" r="7.43"/><circle cx="1417.7" cy="1926.1" r="7.43"/><circle cx="1420.5" cy="1903.6" r="7.43"/><circle cx="1423.3" cy="1835" r="7.43"/><circle cx="1426.1" cy="1922.5" r="7.43"/><circle cx="1428.9" cy="1903.6" r="7.43"/><circle cx="1431.7" cy="1804.1" r="7.43"/><circle cx="1434.5" cy="1904.3" r="7.43"/><circle cx="1437.3" cy="1889.9" r="7.43"/><circle cx="1440.1" cy="1924" r="7.43"/><circle cx="1442.9" cy="1708.7" r="7.43"/><circle cx="1445.7" cy="1860.1" r="7.43"/><circle cx="1448.5" cy="1908.1" r="7.43"/><circle cx="1451.3" cy="1807.7" r="7.43"/><circle cx="1454.1" cy="1701.1" r="7.43"/><circle cx="1456.9" cy="1914.2" r="7.43"/><circle cx="1459.7" cy="1669.8" r="7.43"/><circle cx="1462.5" cy="1851.3" r="7.43"/><circle cx="1465.3" cy="1907.6" r="7.43"/><circle cx="1468.1" cy="1620.6" r="7.43"/><circle cx="1470.9" cy="1888.7" r="7.43"/><circle cx="1473.7" cy="1839.2" r="7.43"/><circle cx="1476.5" cy="1851.3" r="7.43"/><circle cx="1479.3" cy="1839.2" r="7.43"/><circle cx="1482.1" cy="1653.6" r="7.43"/><circle cx="1484.9" cy="1924.3" r="7.43"/><circle cx="1487.7" cy="1669" r="7.43"/><circle cx="1490.5" cy="1620.6" r="7.43"/><circle cx="1493.3" cy="1891.4" r="7.43"/><circle cx="1496.1" cy="1866.8" r="7.43"/><circle cx="1498.9" cy="1919.8" r="7.43"/><circle cx="1501.7" cy="1653.6" r="7.43"/><circle cx="1504.5" cy="1851" r="7.43"/><circle cx="1507.3" cy="1907.3" r="7.43"/><circle cx="1510.1" cy="1917.2" r="7.43"/><circle cx="1512.9" cy="1905.1" r="7.43"/><circle cx="1515.7" cy="1669.8" r="7.43"/><circle cx="1518.5" cy="1907.3" r="7.43"/><circle cx="1521.3" cy="1678.1" r="7.43"/><circle cx="1524.1" cy="1921" r="7.43"/><circle cx="1526.9" cy="1676.3" r="7.43"/><circle cx="1529.7" cy="1911.9" r="7.43"/><circle cx="1532.5" cy="1791.2" r="7.43"/><circle cx="1535.3" cy="1798.1" r="7.43"/><circle cx="1538.1" cy="1891" r="7.43"/><circle cx="1140.4" cy="1816.5" r="7.43" fill="#D63C5A"/><circle cx="1260.8" cy="1923.5" r="7.43" fill="#D63C5A"/></g>
<rect class="l" x="958.4" y="1532" width="602" height="409.6"/>
<path class="l" d="M977.9 1941.6H1538.1M977.9 1941.6v19.8M1117.9 1941.6v19.8M1258 1941.6v19.8M1398.1 1941.6v19.8M1538.1 1941.6v19.8M958.4 1861.6V1571.6M958.4 1861.6h-19.8M958.4 1764.9h-19.8M958.4 1668.3h-19.8M958.4 1571.6h-19.8"/>
<text class="a" x="977.9" y="2013.6" text-anchor="middle">0</text><text class="a" x="1117.9" y="2013.6" text-anchor="middle">50</text><text class="a" x="1258" y="2013.6" text-anchor="middle">100</text><text class="a" x="1398.1" y="2013.6" text-anchor="middle">150</text><text class="a" x="1538.1" y="2013.6" text-anchor="middle">200</text>
<text class="a" transform="translate(910.6 1862) rotate(-90)" text-anchor="middle">0.0050</text><text class="a" transform="translate(910.6 1668.7) rotate(-90)" text-anchor="middle">0.0054</text>
<text class="a" x="1259.4" y="2092.1" text-anchor="middle">variable</text>
<text class="a" transform="translate(831.7 1736.8) rotate(-90)" text-anchor="middle">PIP</text>
</g>
<g>
<g fill="#000"><circle cx="1780.7" cy="1611.6" r="7.43"/><circle cx="1783.5" cy="1821.8" r="7.43"/><circle cx="1786.3" cy="1661.6" r="7.43"/><circle cx="1789.1" cy="1611.6" r="7.43"/><circle cx="1791.9" cy="1750.8" r="7.43"/><circle cx="1794.7" cy="1611.6" r="7.43"/><circle cx="1797.5" cy="1611.6" r="7.43"/><circle cx="1800.3" cy="1611.6" r="7.43"/><circle cx="1803.1" cy="1694.7" r="7.43"/><circle cx="1805.9" cy="1834.6" r="7.43"/><circle cx="1808.7" cy="1650.8" r="7.43"/><circle cx="1811.5" cy="1622.8" r="7.43"/><circle cx="1814.3" cy="1733.8" r="7.43"/><circle cx="1817.1" cy="1795.7" r="7.43"/><circle cx="1819.9" cy="1733.8" r="7.43"/><circle cx="1822.7" cy="1790.9" r="7.43"/><circle cx="1825.5" cy="1756.1" r="7.43"/><circle cx="1828.3" cy="1772.6" r="7.43"/><circle cx="1831.1" cy="1611.6" r="7.43"/><circle cx="1833.9" cy="1611.6" r="7.43"/><circle cx="1836.7" cy="1611.9" r="7.43"/><circle cx="1839.5" cy="1795.4" r="7.43"/><circle cx="1842.3" cy="1734.5" r="7.43"/><circle cx="1845.1" cy="1883.5" r="7.43"/><circle cx="1847.9" cy="1611.9" r="7.43"/><circle cx="1850.7" cy="1610.9" r="7.43"/><circle cx="1853.5" cy="1745.8" r="7.43"/><circle cx="1856.3" cy="1759.7" r="7.43"/><circle cx="1859.1" cy="1783.2" r="7.43"/><circle cx="1861.9" cy="1744.3" r="7.43"/><circle cx="1864.7" cy="1611.6" r="7.43"/><circle cx="1867.5" cy="1732.3" r="7.43"/><circle cx="1870.3" cy="1736" r="7.43"/><circle cx="1873.1" cy="1782.9" r="7.43"/><circle cx="1875.9" cy="1868.7" r="7.43"/><circle cx="1878.7" cy="1611.6" r="7.43"/><circle cx="1881.5" cy="1786.3" r="7.43"/><circle cx="1884.3" cy="1611.6" r="7.43"/><circle cx="1887.1" cy="1819.2" r="7.43"/><circle cx="1889.9" cy="1718.3" r="7.43"/><circle cx="1892.7" cy="1718.3" r="7.43"/><circle cx="1895.5" cy="1766.5" r="7.43"/><circle cx="1898.3" cy="1794.2" r="7.43"/><circle cx="1901.1" cy="1820.3" r="7.43"/><circle cx="1903.9" cy="1732.6" r="7.43"/><circle cx="1906.7" cy="1736" r="7.43"/><circle cx="1909.5" cy="1611.6" r="7.43"/><circle cx="1912.3" cy="1597.2" r="7.43"/><circle cx="1915.1" cy="1611.6" r="7.43"/><circle cx="1917.9" cy="1786.3" r="7.43"/><circle cx="1920.7" cy="1666.1" r="7.43"/><circle cx="1923.5" cy="1833.6" r="7.43"/><circle cx="1926.4" cy="1833.6" r="7.43"/><circle cx="1929.2" cy="1833.6" r="7.43"/><circle cx="1932" cy="1611.2" r="7.43"/><circle cx="1934.8" cy="1624" r="7.43"/><circle cx="1937.6" cy="1734.5" r="7.43"/><circle cx="1940.4" cy="1827.8" r="7.43" fill="#FB0007"/><circle cx="1943.2" cy="1741.7" r="7.43"/><circle cx="1946" cy="1866.1" r="7.43"/><circle cx="1948.8" cy="1852.9" r="7.43"/><circle cx="1951.6" cy="1812.4" r="7.43"/><circle cx="1954.4" cy="1821.8" r="7.43"/><circle cx="1957.2" cy="1840.1" r="7.43"/><circle cx="1960" cy="1629" r="7.43"/><circle cx="1962.8" cy="1733" r="7.43"/><circle cx="1965.6" cy="1816.6" r="7.43"/><circle cx="1968.4" cy="1804.8" r="7.43"/><circle cx="1971.2" cy="1804.1" r="7.43"/><circle cx="1974" cy="1826.8" r="7.43"/><circle cx="1976.8" cy="1833.1" r="7.43"/><circle cx="1979.6" cy="1738.7" r="7.43"/><circle cx="1982.4" cy="1819.6" r="7.43"/><circle cx="1985.2" cy="1750.6" r="7.43"/><circle cx="1988" cy="1834.6" r="7.43"/><circle cx="1990.8" cy="1670.5" r="7.43"/><circle cx="1993.6" cy="1686.8" r="7.43"/><circle cx="1996.4" cy="1763.5" r="7.43"/><circle cx="1999.2" cy="1622.8" r="7.43"/><circle cx="2002" cy="1714.9" r="7.43"/><circle cx="2004.8" cy="1553.9" r="7.43"/><circle cx="2007.6" cy="1809.4" r="7.43"/><circle cx="2010.4" cy="1725" r="7.43"/><circle cx="2013.2" cy="1703.8" r="7.43"/><circle cx="2016" cy="1808.6" r="7.43"/><circle cx="2018.8" cy="1732.3" r="7.43"/><circle cx="2021.6" cy="1767" r="7.43"/><circle cx="2024.4" cy="1591.5" r="7.43"/><circle cx="2027.2" cy="1736.8" r="7.43"/><circle cx="2030" cy="1820.3" r="7.43"/><circle cx="2032.8" cy="1730.7" r="7.43"/><circle cx="2035.6" cy="1723.9" r="7.43"/><circle cx="2038.4" cy="1770" r="7.43"/><circle cx="2041.2" cy="1727" r="7.43"/><circle cx="2044" cy="1763.9" r="7.43"/><circle cx="2046.8" cy="1770.5" r="7.43"/><circle cx="2049.6" cy="1727.7" r="7.43"/><circle cx="2052.4" cy="1715.2" r="7.43"/><circle cx="2055.2" cy="1753.8" r="7.43"/><circle cx="2058" cy="1902.4" r="7.43"/><circle cx="2060.8" cy="1707.6" r="7.43" fill="#FB0007"/><circle cx="2063.6" cy="1707.6" r="7.43"/><circle cx="2066.4" cy="1820.3" r="7.43"/><circle cx="2069.2" cy="1658.1" r="7.43"/><circle cx="2072" cy="1770.8" r="7.43"/><circle cx="2074.8" cy="1771.1" r="7.43"/><circle cx="2077.6" cy="1889.3" r="7.43"/><circle cx="2080.4" cy="1622.8" r="7.43"/><circle cx="2083.2" cy="1747.6" r="7.43"/><circle cx="2086" cy="1745" r="7.43"/><circle cx="2088.8" cy="1770.5" r="7.43"/><circle cx="2091.6" cy="1716.8" r="7.43"/><circle cx="2094.4" cy="1716.8" r="7.43"/><circle cx="2097.2" cy="1715.6" r="7.43"/><circle cx="2100" cy="1716.8" r="7.43"/><circle cx="2102.8" cy="1659.1" r="7.43"/><circle cx="2105.6" cy="1889.3" r="7.43"/><circle cx="2108.4" cy="1739" r="7.43"/><circle cx="2111.2" cy="1752.1" r="7.43"/><circle cx="2114" cy="1739.8" r="7.43"/><circle cx="2116.8" cy="1740.4" r="7.43"/><circle cx="2119.6" cy="1741.6" r="7.43"/><circle cx="2122.4" cy="1736.6" r="7.43"/><circle cx="2125.2" cy="1743.9" r="7.43"/><circle cx="2128" cy="1792.7" r="7.43"/><circle cx="2130.8" cy="1742.8" r="7.43"/><circle cx="2133.6" cy="1738.4" r="7.43"/><circle cx="2136.4" cy="1792.7" r="7.43"/><circle cx="2139.2" cy="1764.7" r="7.43"/><circle cx="2142" cy="1752.1" r="7.43"/><circle cx="2144.8" cy="1753.3" r="7.43"/><circle cx="2147.6" cy="1926.2" r="7.43"/><circle cx="2150.4" cy="1738.1" r="7.43"/><circle cx="2153.2" cy="1709.6" r="7.43"/><circle cx="2156" cy="1720.1" r="7.43"/><circle cx="2158.8" cy="1687.6" r="7.43"/><circle cx="2161.6" cy="1775.8" r="7.43"/><circle cx="2164.4" cy="1753.6" r="7.43"/><circle cx="2167.2" cy="1820.3" r="7.43"/><circle cx="2170" cy="1630.8" r="7.43"/><circle cx="2172.8" cy="1745.4" r="7.43"/><circle cx="2175.6" cy="1711.1" r="7.43"/><circle cx="2178.4" cy="1694.9" r="7.43"/><circle cx="2181.2" cy="1741.6" r="7.43"/><circle cx="2184" cy="1753" r="7.43"/><circle cx="2186.8" cy="1734.6" r="7.43"/><circle cx="2189.6" cy="1741" r="7.43"/><circle cx="2192.4" cy="1697.4" r="7.43"/><circle cx="2195.3" cy="1725.4" r="7.43"/><circle cx="2198.1" cy="1771.2" r="7.43"/><circle cx="2200.9" cy="1726.2" r="7.43"/><circle cx="2203.7" cy="1694.9" r="7.43"/><circle cx="2206.5" cy="1694.9" r="7.43"/><circle cx="2209.3" cy="1901.4" r="7.43"/><circle cx="2212.1" cy="1753.7" r="7.43"/><circle cx="2214.9" cy="1694.9" r="7.43"/><circle cx="2217.7" cy="1717.9" r="7.43"/><circle cx="2220.5" cy="1681.9" r="7.43"/><circle cx="2223.3" cy="1820.3" r="7.43"/><circle cx="2226.1" cy="1738.2" r="7.43"/><circle cx="2228.9" cy="1767.7" r="7.43"/><circle cx="2231.7" cy="1853.7" r="7.43"/><circle cx="2234.5" cy="1674" r="7.43"/><circle cx="2237.3" cy="1658.8" r="7.43"/><circle cx="2240.1" cy="1707.6" r="7.43"/><circle cx="2242.9" cy="1572.9" r="7.43"/><circle cx="2245.7" cy="1647.5" r="7.43"/><circle cx="2248.5" cy="1678.5" r="7.43"/><circle cx="2251.3" cy="1849.2" r="7.43"/><circle cx="2254.1" cy="1558.2" r="7.43"/><circle cx="2256.9" cy="1767.7" r="7.43"/><circle cx="2259.7" cy="1888.4" r="7.43"/><circle cx="2262.5" cy="1809.4" r="7.43"/><circle cx="2265.3" cy="1678.2" r="7.43"/><circle cx="2268.1" cy="1907" r="7.43"/><circle cx="2270.9" cy="1785.1" r="7.43"/><circle cx="2273.7" cy="1818" r="7.43"/><circle cx="2276.5" cy="1808.6" r="7.43"/><circle cx="2279.3" cy="1818" r="7.43"/><circle cx="2282.1" cy="1546.8" r="7.43"/><circle cx="2284.9" cy="1744.3" r="7.43"/><circle cx="2287.7" cy="1888.4" r="7.43"/><circle cx="2290.5" cy="1907.3" r="7.43"/><circle cx="2293.3" cy="1787.1" r="7.43"/><circle cx="2296.1" cy="1639.9" r="7.43"/><circle cx="2298.9" cy="1699.7" r="7.43"/><circle cx="2301.7" cy="1546.8" r="7.43"/><circle cx="2304.5" cy="1633.1" r="7.43"/><circle cx="2307.3" cy="1775.6" r="7.43"/><circle cx="2310.1" cy="1694.9" r="7.43"/><circle cx="2312.9" cy="1676.7" r="7.43"/><circle cx="2315.7" cy="1888.8" r="7.43"/><circle cx="2318.5" cy="1680.8" r="7.43"/><circle cx="2321.3" cy="1885.5" r="7.43"/><circle cx="2324.1" cy="1691.4" r="7.43"/><circle cx="2326.9" cy="1554.7" r="7.43"/><circle cx="2329.7" cy="1759.4" r="7.43"/><circle cx="2332.5" cy="1843.4" r="7.43"/><circle cx="2335.3" cy="1839.9" r="7.43"/><circle cx="2338.1" cy="1782.4" r="7.43"/></g>
<rect class="l" x="1758.4" y="1532" width="602" height="409.6"/>
<path class="l" d="M1777.9 1941.6H2338.1M1777.9 1941.6v19.8M1917.9 1941.6v19.8M2058 1941.6v19.8M2198.1 1941.6v19.8M2338.1 1941.6v19.8M1758.4 1898.4V1551.9M1758.4 1898.4h-19.8M1758.4 1811.8h-19.8M1758.4 1725.1h-19.8M1758.4 1638.5h-19.8M1758.4 1551.9h-19.8"/>
<text class="a" x="1777.9" y="2013.6" text-anchor="middle">0</text><text class="a" x="1917.9" y="2013.6" text-anchor="middle">50</text><text class="a" x="2058" y="2013.6" text-anchor="middle">100</text><text class="a" x="2198.1" y="2013.6" text-anchor="middle">150</text><text class="a" x="2338.1" y="2013.6" text-anchor="middle">200</text>
<text class="a" transform="translate(1710.6 1898.8) rotate(-90)" text-anchor="middle">-0.02</text><text class="a" transform="translate(1710.6 1725.5) rotate(-90)" text-anchor="middle">0.00</text><text class="a" transform="translate(1710.6 1552.3) rotate(-90)" text-anchor="middle">0.02</text>
<text class="a" x="2059.4" y="2092.1" text-anchor="middle">Index</text>
<text class="a" transform="translate(1631.7 1736.8) rotate(-90)" text-anchor="middle">residual</text>
</g>
</svg>
</body></html>
